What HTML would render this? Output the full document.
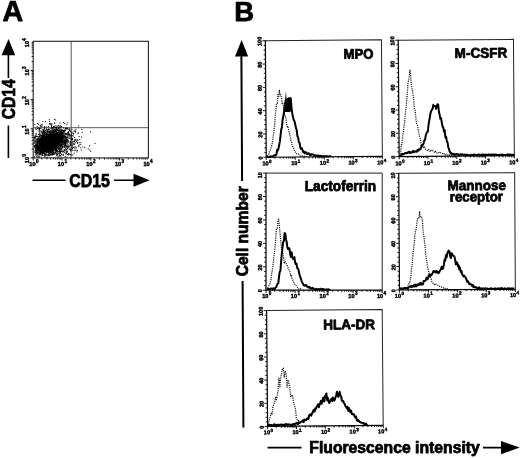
<!DOCTYPE html>
<html><head><meta charset="utf-8"><title>Figure</title>
<style>html,body{margin:0;padding:0;background:#fff}svg{display:block;filter:grayscale(1) blur(.3px);will-change:transform}text{font-family:"Liberation Sans",sans-serif;fill:#000}.b{font-weight:bold;stroke:#000;stroke-width:.75px;stroke-linejoin:round}.t{font-weight:bold;stroke:#000;stroke-width:.4px}</style></head><body>
<svg width="520" height="458" viewBox="0 0 520 458">
<rect width="520" height="458" fill="#fff"/>
<text class="b" x="2.4" y="21.1" font-size="28.6">A</text>
<text class="b" x="234.2" y="21.3" font-size="27.5">B</text>
<g fill="none" stroke="#222" stroke-width="1.1">
<rect x="33.2" y="41.3" width="115.2" height="116.6"/>
</g>
<g fill="none" stroke="#444" stroke-width="0.9">
<path d="M71.2 41.3 V157.9 M33.2 127.7 H148.4"/>
</g>
<path d="M33.2 157.9v2.6M33.2 157.9h-2.6M41.9 157.9v1.6M33.2 149.1h-1.6M46.9 157.9v1.6M33.2 144h-1.6M50.5 157.9v1.6M33.2 140.3h-1.6M53.3 157.9v1.6M33.2 137.5h-1.6M55.6 157.9v1.6M33.2 135.2h-1.6M57.5 157.9v1.6M33.2 133.3h-1.6M59.2 157.9v1.6M33.2 131.6h-1.6M60.7 157.9v1.6M33.2 130.1h-1.6M62 157.9v2.6M33.2 128.8h-2.6M70.7 157.9v1.6M33.2 120h-1.6M75.7 157.9v1.6M33.2 114.8h-1.6M79.3 157.9v1.6M33.2 111.2h-1.6M82.1 157.9v1.6M33.2 108.4h-1.6M84.4 157.9v1.6M33.2 106.1h-1.6M86.3 157.9v1.6M33.2 104.1h-1.6M88 157.9v1.6M33.2 102.4h-1.6M89.5 157.9v1.6M33.2 100.9h-1.6M90.8 157.9v2.6M33.2 99.6h-2.6M99.5 157.9v1.6M33.2 90.8h-1.6M104.5 157.9v1.6M33.2 85.7h-1.6M108.1 157.9v1.6M33.2 82h-1.6M110.9 157.9v1.6M33.2 79.2h-1.6M113.2 157.9v1.6M33.2 76.9h-1.6M115.1 157.9v1.6M33.2 75h-1.6M116.8 157.9v1.6M33.2 73.3h-1.6M118.3 157.9v1.6M33.2 71.8h-1.6M119.6 157.9v2.6M33.2 70.5h-2.6M128.3 157.9v1.6M33.2 61.7h-1.6M133.3 157.9v1.6M33.2 56.5h-1.6M136.9 157.9v1.6M33.2 52.9h-1.6M139.7 157.9v1.6M33.2 50.1h-1.6M142 157.9v1.6M33.2 47.8h-1.6M143.9 157.9v1.6M33.2 45.8h-1.6M145.6 157.9v1.6M33.2 44.1h-1.6M147.1 157.9v1.6M33.2 42.6h-1.6" stroke="#000" stroke-width="0.9" fill="none"/>
<text class="t" x="35.5" y="166.1" font-size="5.6" text-anchor="end">10</text><text class="t" x="35.9" y="163.3" font-size="4.6">0</text>
<g transform="translate(29.2 156.9) rotate(-90)"><text class="t" x="0" y="0" font-size="5.6" text-anchor="end">10</text><text class="t" x="0.3" y="-2.9" font-size="4.6">0</text></g>
<text class="t" x="64" y="166.1" font-size="5.6" text-anchor="end">10</text><text class="t" x="64.5" y="163.3" font-size="4.6">1</text>
<g transform="translate(29.2 128.4) rotate(-90)"><text class="t" x="0" y="0" font-size="5.6" text-anchor="end">10</text><text class="t" x="0.3" y="-2.9" font-size="4.6">1</text></g>
<text class="t" x="92.6" y="166.1" font-size="5.6" text-anchor="end">10</text><text class="t" x="93" y="163.3" font-size="4.6">2</text>
<g transform="translate(29.2 99.1) rotate(-90)"><text class="t" x="0" y="0" font-size="5.6" text-anchor="end">10</text><text class="t" x="0.3" y="-2.9" font-size="4.6">2</text></g>
<text class="t" x="121.2" y="166.1" font-size="5.6" text-anchor="end">10</text><text class="t" x="121.6" y="163.3" font-size="4.6">3</text>
<g transform="translate(29.2 69.2) rotate(-90)"><text class="t" x="0" y="0" font-size="5.6" text-anchor="end">10</text><text class="t" x="0.3" y="-2.9" font-size="4.6">3</text></g>
<text class="t" x="149.7" y="166.1" font-size="5.6" text-anchor="end">10</text><text class="t" x="150.1" y="163.3" font-size="4.6">4</text>
<g transform="translate(29.2 41) rotate(-90)"><text class="t" x="0" y="0" font-size="5.6" text-anchor="end">10</text><text class="t" x="0.3" y="-2.9" font-size="4.6">4</text></g>
<path d="M47.4 140.4h1M46.6 144.4h1M42.1 145h1M56.3 138.6h1M55.6 139.6h1M51.3 141h1M38.5 141h1M52.4 139.2h1M35.2 153.8h1M42.1 146.2h1M50.5 142.2h1M51.2 144.8h1M51 140.1h1M46.2 135.1h1M53.6 135.7h1M43.5 147.1h1M46.1 143.6h1M53 140.3h1M44.4 147.9h1M46.5 137.4h1M43.5 142.6h1M49.5 149.1h1M50.4 136h1M34.8 147.3h1M46.8 146.7h1M51.7 142h1M39.8 140.8h1M54.1 136.8h1M58.4 138.4h1M47.7 148.7h1M51.8 144.5h1M44 149.4h1M41.5 146.7h1M54.6 150.4h1M39.2 143.7h1M58.7 137.4h1M50 145.5h1M42.3 139.5h1M56 140h1M50.6 140h1M59.8 136.9h1M52.6 139h1M39.7 138.7h1M55.4 138.4h1M34.7 148.8h1M51.9 150h1M48.5 137.8h1M41.8 136.7h1M52 142.4h1M51.4 138.8h1M50.7 136.7h1M43.6 145.6h1M55.4 140.7h1M43.8 139.3h1M57.6 142.3h1M39.2 145.4h1M47.2 144.2h1M56.5 145.3h1M55.3 146.7h1M44.1 140.7h1M57 136.5h1M50.9 141.3h1M50.2 139.4h1M47.7 141.4h1M52.3 141.6h1M54.2 138.5h1M62.2 137.7h1M45.2 145h1M49.5 138h1M46.7 141.1h1M57.5 152.1h1M41.4 143.1h1M51.4 140.7h1M46.4 140h1M49.7 144.6h1M65 136.9h1M44.7 143.9h1M46.9 143.2h1M53.8 146.6h1M49.2 137.9h1M55.9 133.8h1M36.8 147h1M47 140h1M52.5 153.9h1M53.9 147.9h1M51.2 148.7h1M51.1 136.4h1M47.7 141.8h1M53.9 140.5h1M49.8 135.1h1M55.1 142.3h1M65.2 143.7h1M54.2 142.3h1M50.2 138.8h1M50.7 139h1M36.6 152.3h1M51.4 146.2h1M40 151.3h1M57.8 136.8h1M57.1 144.7h1M47.1 148.1h1M55.5 133.5h1M44.5 136.3h1M54.8 141.8h1M37.2 138.8h1M47.1 145.6h1M51.6 139.9h1M57.2 145.1h1M57.8 133.4h1M57.9 141.1h1M44.8 138.7h1M49.4 141.7h1M57.6 141.5h1M37.2 141.5h1M49.9 145h1M49.4 138.4h1M50.6 135.9h1M49.3 137.5h1M60.3 132.2h1M45.1 139.3h1M34.8 150.8h1M36.8 140.4h1M40.4 144.5h1M47.2 142.9h1M44.9 142.3h1M60.4 139.4h1M53.2 136.7h1M45.7 149h1M46.1 138.1h1M36.9 148.1h1M56.1 137h1M49.5 138.5h1M48.2 148h1M37.4 148.1h1M53.9 143.8h1M41.6 147.7h1M38.2 145.5h1M41.2 142.6h1M41.9 153h1M53 142.7h1M49.9 144.3h1M54.5 137.6h1M53.3 139.8h1M58.1 137.1h1M49 152h1M56 134.6h1M46 145.3h1M59.2 148h1M54.5 129.9h1M43.2 140.6h1M60.8 140.1h1M53.3 137.2h1M42.4 144.4h1M51.4 138h1M48 143.5h1M41.4 145.9h1M54.5 140.6h1M41.9 148h1M67.5 132.6h1M49.6 154.2h1M53.2 139.2h1M60.1 137.7h1M48.7 140h1M36.9 140.5h1M49.8 145.4h1M59.4 131.5h1M38.4 148h1M50.6 141.1h1M44.7 147.9h1M63.7 134h1M39 151h1M60.9 134.9h1M61.5 135.6h1M43.1 142.6h1M48.7 140h1M43.5 144.3h1M52 139.9h1M53 140.5h1M47.3 139.2h1M47.8 146.5h1M44.4 143.5h1M48 141.9h1M48.7 141.6h1M46.1 148.9h1M52.5 136.7h1M51.1 142.7h1M50.3 146.5h1M36.1 145.2h1M43.2 140.4h1M38.2 157.1h1M43.5 136.4h1M44.3 149.8h1M44.1 141.2h1M52 140.8h1M59.1 136.7h1M49.1 139.6h1M60.6 135.1h1M54 146.2h1M48.4 139.2h1M47.8 137.7h1M53.5 137.1h1M50.2 130.4h1M56.4 141.6h1M52.2 129.6h1M47.3 138.8h1M55 140.9h1M41 143.4h1M52.2 136.4h1M53.7 141.1h1M54.8 138.5h1M49.9 141.9h1M47.7 139.5h1M40.8 147.3h1M46.8 149.7h1M43.2 153h1M44.7 140.8h1M52.2 141.9h1M45.3 149.8h1M61.2 137h1M54.7 145.1h1M45.1 151.7h1M54.8 136.7h1M35.9 145.8h1M50.5 150.1h1M35.2 150.6h1M42.7 150.4h1M49 141.2h1M53.5 138h1M59.8 134.4h1M39.2 147.1h1M40.2 149.5h1M48 142.6h1M49.8 149.5h1M40.3 144.6h1M46.8 144.3h1M47.2 146.3h1M53.6 139.6h1M47.1 145.9h1M44.1 156.1h1M42.1 143.9h1M38.8 143.9h1M47.8 149h1M46.5 144.4h1M52.3 138.8h1M47.2 146.7h1M47.5 143.1h1M53.7 139.9h1M42.1 150.3h1M45.1 146.7h1M41 144.8h1M45.4 142.8h1M51.5 143.7h1M63.5 140.4h1M55.9 140.1h1M53 152.4h1M43.8 142.5h1M55.3 130.1h1M52.2 135.7h1M54.7 136.6h1M51.7 142.4h1M50.6 147h1M55.1 145.6h1M52.7 131.7h1M47 142.8h1M56.2 140.5h1M43.5 142.5h1M53.2 138.1h1M45.5 135.1h1M59.5 139.7h1M49.8 144.2h1M57 143.7h1M52.4 143.8h1M44.8 140.1h1M57.3 140.4h1M45 139.6h1M48.5 141.1h1M59.9 134.5h1M47.8 132.1h1M49.5 138.6h1M44.2 143.8h1M39.1 136.5h1M56.1 146.3h1M36.6 152.9h1M55.7 142.9h1M47.7 144.1h1M46.4 148h1M46.9 149.5h1M48.4 141.1h1M51.3 142.9h1M42.7 143.2h1M47.2 135.6h1M53.4 141.8h1M44.5 146.7h1M41.9 145.7h1M51.1 139.5h1M54.8 131.3h1M43.9 143.6h1M64.7 147.2h1M45.3 142.5h1M50 140.3h1M47.4 141.1h1M49.8 138.6h1M34.9 149.9h1M47.2 147.6h1M42.4 141.1h1M45 140.4h1M53.8 139.8h1M51.7 142.2h1M39.2 144.9h1M50.9 144.4h1M48.7 139h1M43.5 140.8h1M60.1 142.2h1M49.3 143h1M59 138.5h1M53.6 144.4h1M48.4 142.6h1M38.5 138.3h1M52.3 149.6h1M53.3 142h1M51.9 140h1M38.4 145.9h1M57.7 142.9h1M40.1 150.8h1M40.8 142.8h1M60.2 137.7h1M52.8 131.2h1M44.3 146.6h1M52.6 139h1M40.4 149.9h1M50.7 140.8h1M39.6 145.6h1M45.5 141.1h1M47.6 143.1h1M47.4 137.9h1M57.2 142.1h1M53.2 144.9h1M49.9 138.7h1M58 142h1M48.2 141.7h1M38.6 144.8h1M44.5 141.8h1M38.7 154h1M49.1 141.2h1M45.9 139h1M46 145.9h1M49.8 149.4h1M44 143.7h1M53.9 141.9h1M49.7 145.2h1M52.5 133.9h1M46.8 132h1M44.3 143.4h1M50.9 137.2h1M37.8 154.8h1M53.5 137.6h1M55.8 128.6h1M50.2 140.9h1M55.1 139.2h1M58 145.9h1M53.4 143h1M57.2 130.5h1M48.2 143.8h1M44.2 147.4h1M45.1 140.4h1M48.8 142.1h1M48.5 138.3h1M51.6 142.4h1M52.7 142.2h1M42.6 137.2h1M50.4 146.4h1M56 139.1h1M40.1 137.1h1M51.8 137.6h1M49.6 142.9h1M39.4 140.2h1M48.4 143.9h1M50.9 141.6h1M52.5 143.2h1M45.7 153h1M46.5 139.9h1M56.9 142.1h1M49.6 134.9h1M47.2 139.4h1M59.6 139.6h1M55.7 144h1M49.8 142.5h1M50.6 136.8h1M63.5 141.9h1M45.3 141h1M42.1 141.8h1M51.9 142.9h1M50.1 149.2h1M51.7 148.9h1M43.2 146.3h1M46.9 138.9h1M48.6 144.3h1M54 133.9h1M49 140.7h1M57 139.2h1M43 132.4h1M60.7 148.7h1M48.7 140.5h1M55.7 137.7h1M45.4 148.1h1M50.4 137.3h1M40.1 149.3h1M46 152h1M46.3 145.1h1M50.6 145.2h1M42.2 145.8h1M47.4 145.8h1M49.5 138.8h1M58.4 132.2h1M42.8 145.8h1M34.4 137.2h1M43.7 143.8h1M50.3 148.3h1M51.5 141.9h1M36.8 144h1M54.1 149.7h1M54.1 140.2h1M52.2 139.6h1M56.8 141.5h1M53.8 143.1h1M52.3 145.3h1M49.9 134.2h1M51.3 142.6h1M40 148.2h1M50.9 137.6h1M51.9 139.3h1M49.8 135.9h1M45.3 145.8h1M54.4 140.8h1M46 145.8h1M47.6 139.9h1M49.4 147.9h1M51.5 140.9h1M42.8 140.3h1M46.2 144.6h1M55.3 134.8h1M44.5 141.5h1M45.5 132.6h1M46.7 137.4h1M45.2 139.6h1M60.1 151.4h1M46.2 140.7h1M47.1 145.9h1M62.8 138.7h1M38.7 140.9h1M38.5 139.6h1M44.9 142.7h1M57 139.9h1M37.3 153h1M57.2 137h1M44.1 139.6h1M52.6 138.5h1M55.3 137.5h1M51.4 153.1h1M50.2 139.8h1M64.2 143.1h1M46.4 142.9h1M53.8 143.3h1M55.1 144.5h1M49.6 144.7h1M48.7 145.6h1M39.3 139.7h1M49.8 144.8h1M51 137.3h1M41.9 144.6h1M52.7 139.1h1M43.8 153.4h1M57.1 138.9h1M48.3 143.8h1M49.7 144.2h1M40.8 147.8h1M43.8 146.5h1M41.6 141.2h1M40.6 141.4h1M42.2 142.4h1M57.8 139.3h1M43.7 143.4h1M47.4 150.8h1M44.7 142.7h1M45.5 142.9h1M54.3 137.6h1M55.2 138.2h1M46.6 143.1h1M46.3 144.5h1M45.2 151.2h1M46.3 143.2h1M42 144.2h1M51.7 142.5h1M59.1 151.9h1M44.9 151.8h1M58.2 127.9h1M51.6 143.2h1M49.4 152.6h1M54.6 139.3h1M47.9 145.3h1M52.1 143.9h1M49.4 144.6h1M50.7 138.5h1M42.7 144.1h1M52.7 140.8h1M59.1 130.8h1M40.2 153.4h1M56 133.6h1M55.6 137h1M43.6 147h1M53.3 145.5h1M35.3 150.3h1M67.3 129.1h1M43.1 147.2h1M49.1 145.8h1M57.1 140.8h1M42.9 137.8h1M44.9 142.3h1M48 144.1h1M49.8 145.4h1M39.2 148.2h1M48.4 142.3h1M52.3 141h1M42.4 147.2h1M34.3 146.7h1M52.3 139.1h1M47.5 143.5h1M54.7 140.9h1M54.1 138.5h1M51.5 135.8h1M44.3 145.2h1M42.2 147.7h1M60.9 131.4h1M49.3 139.7h1M57.2 136.7h1M54.9 146.8h1M44.8 141.3h1M58.1 139.7h1M42.4 145.6h1M43.1 147.8h1M57.7 143.2h1M51.2 131.9h1M56.7 139h1M45 141.5h1M60 136.9h1M56.9 140h1M51.7 142.7h1M52.9 135.4h1M39 145.1h1M49.4 144.9h1M47.4 139.1h1M62.5 136.2h1M48.8 149.6h1M61.3 139h1M46.9 148h1M46.8 148h1M49.5 140.1h1M49 141.1h1M44.6 136.9h1M42 152.5h1M46.3 146.5h1M41.4 145.9h1M49 147.8h1M49.3 135.7h1M52.8 142.2h1M49.2 142.9h1M49.1 139h1M45 154.4h1M47.3 146.9h1M52.1 144.4h1M52.1 131.6h1M40.2 149.7h1M36.3 156.5h1M36.5 143.7h1M42 152.7h1M39.5 141.8h1M42.9 145.5h1M52.3 135.3h1M62.5 134.3h1M49.7 141.4h1M62.1 132.6h1M47 140.8h1M50.5 141.8h1M43.6 149.8h1M43.1 150.9h1M57.2 137.9h1M42.2 137.6h1M52.1 150.4h1M61.6 135.6h1M60.6 145.2h1M52.5 139.6h1M50 141.3h1M53.7 148.1h1M38.6 151.3h1M44.1 146.4h1M51.2 140.6h1M47.9 145.8h1M46.7 138.5h1M53.7 140.8h1M48.2 135.4h1M45.4 140.3h1M55.8 142h1M52.6 146.6h1M55.4 139.9h1M38.8 141.8h1M44.1 137.6h1M43.8 144.4h1M50 143.7h1M49.5 144.8h1M52.9 141.4h1M46.6 155.6h1M56.2 140.5h1M36.8 144.9h1M52.9 136.5h1M43.2 136.7h1M50.3 131h1M48.4 139.4h1M44.7 148.6h1M56.8 136.3h1M59.7 135.8h1M42.7 151.6h1M43.4 146.8h1M43.8 141h1M50.3 143.3h1M49.5 142.9h1M50.8 138.5h1M54 144.3h1M40.3 137.9h1M50.6 136.9h1M37.3 146.7h1M46.9 149.5h1M46 139.8h1M57.5 133h1M41.1 150.7h1M53.1 137.1h1M48.2 148.6h1M54.6 137.4h1M51.6 144h1M51.5 138.1h1M42.6 152.4h1M51.2 139.6h1M49.7 138.1h1M44.5 143.8h1M47.2 140.2h1M58.7 141.2h1M63.9 131.7h1M54.4 138.4h1M60 140.6h1M46.5 147.9h1M53.2 135.2h1M52.5 139.6h1M47.4 142h1M40.4 139.6h1M44.5 148.6h1M42.6 147.7h1M55.4 135.9h1M40.7 140.1h1M53.7 143.9h1M37.8 148.5h1M44.7 141.8h1M43.7 153h1M48.2 149.6h1M53 147h1M42.9 147.8h1M46.5 137h1M54.8 138.2h1M48.8 149.6h1M44.4 146h1M42.7 141.6h1M42.8 147.2h1M39.1 154.3h1M54 135h1M48.5 147h1M56.9 139.1h1M56.4 133.8h1M55.4 142.9h1M56.4 137h1M37.9 146.9h1M39 145.3h1M51 146.8h1M36.5 139.4h1M52.8 134.7h1M41 139.4h1M64.6 129.3h1M47.4 141.5h1M48.7 137.9h1M55.5 140.4h1M40.4 141h1M46.2 140.2h1M52.2 134.1h1M55.5 142.9h1M52.9 133.3h1M45.5 141.2h1M57.9 134.4h1M50.3 148.1h1M40.5 143.3h1M54.1 129.4h1M44.2 138.3h1M51.6 149.5h1M43.3 143h1M45.1 144h1M50.6 145.7h1M50.8 144.9h1M45.5 140.7h1M45.1 142h1M59.1 139.8h1M48.4 139.1h1M47.4 137.8h1M40.8 141.5h1M44.2 147.2h1M59.2 143.8h1M60.9 136.5h1M56.9 145h1M58.2 133.4h1M47.6 143.3h1M64.9 137.7h1M45 146.3h1M51.8 140.2h1M51.7 133.8h1M46.9 140.7h1M56.9 145.1h1M57.6 131.9h1M38.2 150h1M39.4 153.2h1M49.3 150.9h1M53.5 134.6h1M37.5 146.6h1M36.8 141.8h1M43.3 145h1M49.5 139.7h1M46.2 143h1M45 142.8h1M40.8 144.1h1M35.2 148h1M61.2 139h1M40.5 143.3h1M40.1 152.1h1M44.5 140.1h1M50.9 142.4h1M41.1 149.3h1M57.7 139.1h1M39.7 154.4h1M42.4 132.6h1M40.8 144.7h1M49.7 142.9h1M45 149.7h1M43.6 135.9h1M44.5 139.6h1M37 146.6h1M51.5 137h1M41.8 141.4h1M50.2 145.5h1M50.6 146.1h1M43.2 143.9h1M40.1 151.3h1M46.6 139.4h1M47.3 136.9h1M39.3 150.8h1M59.2 138.1h1M53.7 145h1M54.1 139.9h1M52.8 141.3h1M55.7 143.8h1M40.4 151.3h1M55.3 144.3h1M40.5 148.8h1M44 149.4h1M45.8 146h1M43.7 148.1h1M48.2 144.7h1M49.6 141.1h1M48.1 152.7h1M44 147.3h1M51.7 149h1M43.4 145.1h1M47.5 138.2h1M46.7 138.5h1M36.7 153.7h1M57.1 138.4h1M51.9 141.1h1M50.2 147.7h1M54.1 143.6h1M55.1 140.5h1M33.9 152h1M55.8 141.4h1M46.2 141.9h1M45 145.8h1M49.3 141.6h1M58.6 139.8h1M63.1 130.7h1M61.1 134.6h1M49.5 141.6h1M46.7 146.3h1M47.3 145.7h1M60 137.3h1M43.3 152.6h1M47.6 144.6h1M40 149.8h1M34.3 143.3h1M51.2 130h1M48.1 143.3h1M58.2 139.5h1M49.2 144.1h1M46.3 136.1h1M57.2 132.5h1M46.2 142.9h1M43.8 139.2h1M40 142h1M57.4 133.8h1M43.6 138.7h1M42.9 147.4h1M41.2 139h1M58.7 142.8h1M43.1 145.4h1M66.3 133.6h1M42.8 152.2h1M45.5 137.8h1M60.5 140.8h1M43.3 146.1h1M37.1 141.1h1M42.6 139h1M35.7 151.5h1M49.5 145.8h1M53.7 141.2h1M41.5 141.3h1M51.8 150.5h1M61.1 137.1h1M51.3 150.4h1M43.3 145.4h1M53.9 147.9h1M40.2 153.9h1M47.3 141.2h1M36.7 148.1h1M53.8 133.9h1M52.5 142.9h1M39.6 149h1M44.3 142.8h1M50.2 134.4h1M49.1 147.3h1M59.8 135.4h1M48.3 145.9h1M34.9 150.5h1M53.6 145h1M40 143.7h1M50.8 139.1h1M54.5 134.5h1M44.1 139h1M42.8 140.7h1M50 141h1M54.9 141h1M56.9 136.4h1M48.7 145.1h1M42.9 146.3h1M47.1 142.9h1M68.9 134.6h1M52.5 145.5h1M43.4 145.2h1M48.5 147.3h1M58.5 142.7h1M52.8 152.2h1M48.8 141.2h1M50.5 139.2h1M50.5 141.3h1M35.2 149h1M50.3 143h1M42.4 146.7h1M62.8 131.1h1M49.7 136.3h1M35.7 154.5h1M44.3 147.6h1M45 142.5h1M67.7 140.9h1M49.2 141.1h1M49.4 138h1M58.7 145.8h1M49.2 143.5h1M49 149.4h1M34.1 156.7h1M52.2 140.7h1M46.1 154h1M45.1 146.8h1M38.1 149.2h1M53.8 138.7h1M49 140h1M44.6 143.1h1M49.4 139.7h1M47.9 143.3h1M46.8 145.9h1M63.9 136.4h1M54.1 130.6h1M55.9 147.9h1M54.1 137.3h1M62.5 133h1M52.2 147h1M43.1 142.6h1M50.6 146.7h1M45.5 145.1h1M49.3 140.8h1M45.1 149h1M58.6 132.7h1M49 137.6h1M52.2 138.6h1M50.8 145.5h1M53.5 136.6h1M44.9 134.3h1M64.5 130.2h1M62.5 135.7h1M45.5 146h1M43.3 143.2h1M49.1 139.3h1M37.9 134.4h1M63.5 139h1M53.5 139.1h1M50.1 143.1h1M46.7 146.7h1M49.6 142.3h1M49.6 146.2h1M48.8 142.2h1M51.2 146.7h1M52.4 137h1M52 143.4h1M45 144.4h1M55.2 133.7h1M46.7 145.9h1M51.2 140.9h1M41.6 147.6h1M48.6 139.4h1M39.4 149.4h1M50.3 147.7h1M49.6 140.6h1M46.5 147.7h1M47.7 144.2h1M49.7 146.1h1M53.7 149h1M47.3 142.7h1M54.1 143.9h1M51.4 144.4h1M55.5 132.8h1M46.4 141h1M43.5 139.2h1M56.5 140.4h1M41.5 142.3h1M57.4 135.3h1M51.7 150.2h1M45.7 136.6h1M41.8 138.9h1M61.8 135.8h1M55.5 142.3h1M40.3 145h1M47.1 143.1h1M52.9 142.1h1M50.3 140.1h1M50.7 133.5h1M51.5 141.4h1M46.4 145.9h1M57.6 139.6h1M40.7 147h1M47.1 144.9h1M54.3 146.5h1M51.9 141h1M40.8 144.2h1M48.5 140.2h1M45.9 141.7h1M36.2 150.5h1M54.9 136.1h1M47.7 145.5h1M53.1 151h1M44 140.5h1M51.6 146.5h1M37.8 138.4h1M48.4 146.6h1M49.9 138h1M50.9 151.5h1M51.5 150h1M56.5 138.7h1M62.6 141.9h1M49.8 137.4h1M43.4 147h1M46 143.5h1M41.9 141.9h1M52.2 141.3h1M59.3 141.4h1M56.5 143.1h1M51.2 150.8h1M49.6 143h1M44.5 146.3h1M45.3 146.6h1M44.2 145.9h1M41.4 144.9h1M53.4 142.5h1M46.9 136.6h1M56.1 136.4h1M55.7 142.3h1M49 137.3h1M44.7 144h1M51.4 140.1h1M47.9 138.1h1M48.2 139.2h1M56.4 137.6h1M51.9 147h1M39.1 147.6h1M53.4 134.4h1M40.8 143h1M42 147.5h1M47.5 139.6h1M51.3 136.4h1M43.1 139.7h1M54.7 140.7h1M51 144.5h1M40.8 146.2h1M47.7 129.4h1M47.3 135.2h1M50.2 140.6h1M52.5 145.1h1M55 139.2h1M39.2 142h1M52.7 139.4h1M58.5 142h1M52.8 138h1M44 138.1h1M37.4 151.2h1M50.6 147h1M45.8 150.7h1M47.6 147.9h1M48.9 149.5h1M51.1 143.1h1M48.8 142.7h1M47.8 148.8h1M41.8 146.2h1M48.9 151.5h1M42.7 146.7h1M41.9 142.6h1M46.6 146.7h1M43 140.1h1M44.8 140.7h1M49.2 151.1h1M41.4 144.2h1M51.7 138.1h1M55 136.1h1M45.8 144.1h1M53.1 143.3h1M53.6 148.6h1M52.6 142.3h1M36.7 140.8h1M50.6 141.9h1M40.8 146.5h1M57.5 144.1h1M40.4 145.1h1M44.8 147.6h1M44.2 138.7h1M41.3 135.2h1M43.6 148.7h1M54.4 138.5h1M42.5 140.5h1M35.2 150h1M55.6 142h1M40.5 142.1h1M54.5 141.1h1M36.2 147.1h1M52.2 138.1h1M60.4 140.8h1M45.3 143.5h1M55.3 145.2h1M53.8 153.9h1M53 144.5h1M52.4 138.4h1M40.6 144.8h1M50.8 139.2h1M41.2 148.8h1M38.9 133.1h1M47 143.9h1M39.8 140.3h1M46.7 136.3h1M54.1 141h1M52 146.8h1M45.7 145.8h1M40.1 144.4h1M49.3 135.7h1M41.9 146.2h1M51.8 139.8h1M48.1 144.8h1M52.2 139.9h1M36 146.7h1M38 150.5h1M49.5 142h1M48.2 146.6h1M46.1 147.3h1M51.8 138.5h1M61.6 133.5h1M42.6 146h1M42.7 142.5h1M62.4 135.9h1M40.6 142h1M48.9 141h1M59.3 143.7h1M45.3 134.2h1M49.8 145.8h1M50 137.6h1M46.7 146.1h1M45.9 134.4h1M37.1 144.5h1M49.4 139.4h1M46.4 140.7h1M53.7 141.9h1M45.3 144.1h1M41.9 145.1h1M46.8 142h1M58.9 134h1M46.3 140.3h1M51.4 138.3h1M49 141.2h1M44.5 147.1h1M55.8 134.7h1M53.4 139.3h1M49.7 144.3h1M37.5 142.1h1M49.2 144.9h1M43.7 137.8h1M38.7 136.8h1M55.6 129.9h1M43.7 143.8h1M45.3 142.6h1M46.2 146.5h1M54.7 144.6h1M45.8 140.6h1M44.4 145.5h1M50.4 143.7h1M40.2 145h1M49.1 134.5h1M42.4 139.5h1M42.9 145.5h1M46.7 141.7h1M56.3 132.5h1M45.9 137h1M56 136.9h1M44.6 139.3h1M48.2 140.9h1M47.5 139.7h1M57.2 135.2h1M48.3 138h1M57 144.8h1M56.6 146.7h1M52.8 138.7h1M58.6 138.8h1M44.4 147.2h1M41.2 140.7h1M46.1 146.4h1M51.1 145.4h1M45.1 145.4h1M61.2 132.7h1M45.6 150.5h1M50.4 141.7h1M51.5 139.2h1M47.5 138.5h1M54.3 140.1h1M45.2 145.5h1M51.8 146.8h1M46.5 146.4h1M40 141.8h1M48.4 142.4h1M52.5 148.4h1M48.4 141.2h1M52.7 146.5h1M53.5 140.3h1M58.8 134.8h1M54.7 131.1h1M48 144.6h1M45.1 147.7h1M46.1 151.8h1M48.5 140.5h1M54.6 142.6h1M56.9 143.5h1M45.4 151.9h1M42.5 147.6h1M58.7 137.6h1M42 141.7h1M51.3 142.9h1M48.3 143.9h1M42.9 151.8h1M49.4 136.5h1M57.4 141.6h1M43.4 144.7h1M54.7 139.4h1M45.2 141.7h1M47.8 140.4h1M44.2 150.2h1M49.8 138.8h1M41.2 144.7h1M53.7 142.9h1M46.7 133.8h1M55 136.3h1M44.3 136.2h1M37.2 147.6h1M54.8 135h1M41.8 147.1h1M47.5 151.4h1M53.3 138.8h1M46.3 140.6h1M53.8 139.8h1M53.6 134.5h1M45.6 142.5h1M46.4 138.4h1M46.4 140.9h1M49.5 142h1M59.4 140.2h1M58.5 136.4h1M56.7 141.2h1M55.3 137.5h1M44.9 142.2h1M47.6 142.9h1M56 143.9h1M35.8 153.3h1M44.9 146.3h1M49.2 139.8h1M60.1 138.3h1M50.6 145.3h1M53.8 135.2h1M54.8 149.7h1M56 133.6h1M52 148.3h1M47.2 140.2h1M50.2 145.7h1M44 139.3h1M41.7 137.8h1M49 141h1M39.3 147.4h1M51.2 148.4h1M60 145.9h1M40.8 144.2h1M52.4 138.3h1M45.9 144h1M46.3 145.6h1M50.3 141.4h1M44.8 142.3h1M48.3 142.9h1M53.5 148.9h1M48.9 147.1h1M48.2 135.9h1M41.5 144.6h1M45.8 138.9h1M40.4 151.9h1M51.4 143.4h1M47.7 137.9h1M42.4 145.6h1M49.9 140.3h1M46.4 138.4h1M62.2 141h1M57.9 149.6h1M57 142h1M49 143.9h1M43 149.5h1M47.5 137h1M55.3 142.4h1M44.3 146.6h1M43 135.9h1M52.8 140.9h1M44.2 148.1h1M57.7 136.8h1M43.6 139.3h1M42.2 141.2h1M41.9 145.9h1M52.1 139.7h1M53.9 144.9h1M60.1 133.7h1M49 140.3h1M43.4 144.4h1M40.2 144.1h1M51.3 135.9h1M55.4 137.2h1M45.9 144.1h1M46.6 142h1M37.2 141.8h1M38 147.3h1M48 144.9h1M58.9 140.4h1M59.8 134.6h1M45.8 141.4h1M56.3 142.1h1M48.4 145h1M48.5 144.1h1M50.2 137.7h1M57.5 139.7h1M50.8 138.2h1M45.4 147.9h1M54.5 145.2h1M53.3 145.6h1M58.9 144.6h1M55.6 134.1h1M44.1 137h1M41.3 152.1h1M53.9 138.1h1M44.3 154.7h1M47.8 144h1M45.8 144.4h1M36.5 147.9h1M61.7 132.5h1M45.4 146.4h1M52.2 136.9h1M51.7 146.9h1M49.7 141.6h1M59 134.7h1M53.2 136h1M47.8 135.9h1M46.3 141.3h1M53.3 145.4h1M42 151.8h1M49.5 142.5h1M47 140.7h1M35.1 145.9h1M48.7 143.6h1M55.5 133h1M44.6 147.6h1M44.8 143h1M51.2 145.7h1M53.7 145.8h1M54.2 139.2h1M53.9 131.6h1M46.6 143.7h1M52.5 137.7h1M40.3 143.3h1M44.5 140.7h1M57.2 140.2h1M48 141.8h1M52.2 140.9h1M45.1 146.5h1M48.8 137.1h1M49.4 136.3h1M50.2 142.1h1M37.2 148.2h1M54.9 146.7h1M41 149.2h1M45.7 140.3h1M49.9 151.1h1M57.1 143h1M46.7 135.6h1M46.6 148.5h1M43.6 146.9h1M41.7 145.6h1M54.5 139.5h1M43 131.5h1M42.4 143.5h1M49.6 138.9h1M46.9 140.9h1M62 138.8h1M42 142.6h1M43 145.5h1M50.1 140.6h1M47.7 138.9h1M45.8 148.9h1M53.6 142.9h1M55.4 143.7h1M52.5 140.1h1M43 137.6h1M37.6 141.1h1M56 138.5h1M52.2 143.8h1M48.7 141.5h1M52 138.5h1M46.4 146.1h1M45.4 141.4h1M36.5 150.9h1M45.3 145.7h1M43.7 155.4h1M46.1 144.2h1M51.1 150.6h1M47.1 140.7h1M53 136.1h1M54 145.8h1M52.1 143.1h1M45.2 136.5h1M43.5 147.5h1M44.9 147.1h1M55.3 139.2h1M57.9 138.4h1M45.8 138.5h1M43.8 145.7h1M47.5 142.6h1M55.4 143.5h1M50.7 142.1h1M39.2 149.6h1M47.6 140.9h1M51.1 139.7h1M48.3 144.5h1M50.1 146.6h1M39.6 146.1h1M38.8 147.1h1M43.1 146.3h1M47.3 146.3h1M43.8 151.2h1M48.4 146.4h1M47.8 155.2h1M43.7 142.6h1M49.2 141.9h1M39.2 143.7h1M48.3 146.9h1M53.2 141.6h1M48.1 144.6h1M52.1 141.2h1M56.3 138.6h1M44.3 144.5h1M53.9 142.8h1M51.5 139.4h1M44.7 153.8h1M49.6 141.3h1M48.5 145.9h1M56.1 141.3h1M43.7 146.9h1M49.5 147.1h1M44.4 134.6h1M58.1 135.5h1M57.9 137.6h1M39.1 139.4h1M57 138.3h1M37.4 139.6h1M56.7 142.7h1M50.2 138.6h1M49.2 137.4h1M49.8 139.1h1M47.3 149.4h1M45.8 129h1M51.8 135.8h1M57.8 132.6h1M51.4 144.5h1M46.4 151.6h1M48.4 138.5h1M34.9 144.9h1M55.3 134.9h1M41.8 147h1M35.3 150.3h1M54.3 131.8h1M42.8 137.7h1M50.7 144.2h1M59.6 151.1h1M48.3 141.6h1M64.2 130.6h1M63.2 138.3h1M56.4 134.5h1M52.2 140h1M46.8 144.7h1M42.9 135.1h1M43.2 153.1h1M50.2 142.3h1M51.7 133.6h1M47.5 143.9h1M43.7 143.8h1M45.9 142.2h1M69 135.8h1M45.3 134.6h1M55 137.3h1M54 137.5h1M54.5 134.7h1M56.5 134.5h1M45.3 143.3h1M44.9 139.1h1M53.3 143.4h1M55.3 129.1h1M55.1 145.9h1M48.6 139.6h1M48.7 140.7h1M56.5 139.1h1M42.3 140.8h1M48 142.1h1M43.2 150h1M40.1 146.1h1M38.5 157.1h1M54.5 146.3h1M44.5 141.1h1M34.6 139.9h1M44.3 140.5h1M45.8 141.8h1M49.2 142.3h1M35 152.4h1M49.9 135.8h1M45.6 140.8h1M50.1 139.9h1M53.1 148.1h1M50.1 142.9h1M45.5 147.1h1M42.2 148.6h1M44.4 132.2h1M59.4 139.8h1M52.1 146h1M51.1 135.4h1M47.1 147.3h1M45.8 147.6h1M39.3 145.8h1M45 147h1M41.7 148.3h1M51.6 135.5h1M49.8 132.2h1M38.4 143.7h1M40.9 145.1h1M49.8 139.7h1M55.1 143.4h1M40.3 145.3h1M49.6 145.4h1M56.2 133.1h1M39.8 143h1M52.8 150.1h1M49.6 143.3h1M40.9 138.4h1M49.3 144.4h1M52.1 138.7h1M54.1 138.5h1M49.8 147.5h1M45.9 142.5h1M44.8 148.1h1M37.1 144.1h1M48 145.2h1M44.8 147.4h1M43.6 144.1h1M45.2 140.3h1M47.7 142.1h1M52.6 135.8h1M52.6 140.5h1M46.5 146.6h1M47.1 139.8h1M49.5 144h1M38.1 151.9h1M51.8 137.1h1M49.3 148.5h1M47.4 141.8h1M43 142.3h1M46.2 146.8h1M41.5 140.6h1M49.8 146.2h1M43 139.8h1M52 143h1M58.4 141.4h1M43 138.9h1M47.7 141.1h1M47.6 147.2h1M40.6 145.3h1M56.4 145.1h1M57.5 139.3h1M41.7 143h1M51.1 145.9h1M35.2 144.1h1M41.9 142.1h1M36.1 146.2h1M41.6 150.8h1M47.2 142.1h1M43.5 149h1M47.8 150.5h1M52.5 139.3h1M60.3 135.7h1M51.1 140.7h1M47.1 148.8h1M58.5 137.7h1M45.3 148.4h1M58.6 137.7h1M41.7 141.1h1M60.6 139.7h1M50.6 143.9h1M45.7 138.4h1M68.4 137.2h1M48.6 138.9h1M47.4 139.5h1M52.6 146h1M41.5 144.5h1M54.2 139.9h1M54.8 147.1h1M50.9 144.7h1M49.5 140.8h1M42 145.1h1M41.4 143h1M42.5 146.2h1M49.1 145.3h1M55.1 143.7h1M54.3 139.8h1M41.6 145.1h1M42.7 145.5h1M48.9 134.3h1M47.6 135.7h1M49.8 148h1M34.5 142.9h1M36.6 142.2h1M55.5 139.1h1M46.9 144h1M49.8 143.5h1M44.6 145.1h1M55.3 143.6h1M49.6 147.4h1M42.3 150.1h1M48 139.6h1M49.9 144.4h1M52 143.2h1M51.2 140.6h1M49.1 153.4h1M41.1 140.8h1M50.4 132h1M46.4 145.5h1M58.7 137.6h1M61.2 137.1h1M48 139.4h1M43 145.8h1M44.7 144.4h1M52.9 143.6h1M50 144.4h1M50.9 154.2h1M47.4 142h1M42.8 139.4h1M51.4 136.1h1M55.4 138h1M46.3 147.9h1M46.6 145h1M49.6 144.3h1M66.1 145.3h1M55.4 142.9h1M48 138.5h1M47.1 148.2h1M50.9 142.8h1M35.6 144.7h1M40.9 147.7h1M51.9 140.3h1M49.2 132.7h1M50.5 144.8h1M49.9 142.7h1M42 134.9h1M47 144.1h1M46 138.7h1M50.7 134.4h1M55.4 133.5h1M48.2 140.9h1M45.5 144h1M36.8 147.9h1M41.7 147h1M56.5 139.4h1M57.3 136.6h1M55.5 136.3h1M45.6 139.6h1M45.8 145.5h1M58.6 130.4h1M44.3 135.8h1M52.8 145.2h1M50.7 140.3h1M50.5 143.6h1M40.4 144.3h1M54.9 137.5h1M54 136.3h1M42.1 144.2h1M51.8 137.3h1M50.1 139.8h1M51.8 132.4h1M34.6 146h1M64.5 137.6h1M37 144.7h1M38.6 147.9h1M51.9 134.1h1M52.2 138.6h1M55.2 140h1M42.9 144.3h1M50.3 143.3h1M43.8 145.2h1M37.8 149.6h1M47.5 144.3h1M50.4 135.8h1M50.4 142.2h1M39.8 149.4h1M49.9 146h1M50 146.9h1M49.3 142.6h1M54.4 142.8h1M46.4 141.9h1M50.8 134.4h1M46.2 145.4h1M47 140.8h1M50.8 138.9h1M42.6 132.9h1M60.2 139.8h1M41 143.6h1M48.6 152.4h1M46.9 149.4h1M53 135.3h1M53.3 148h1M58.3 136.1h1M46.8 140.7h1M57.8 141.7h1M47.8 145.2h1M53.4 150.9h1M56.4 144.9h1M52.5 148.7h1M41.9 146.8h1M51.9 148.9h1M51.6 144.6h1M56 142.1h1M51.4 142.6h1M59.5 141.4h1M50.6 133.2h1M49.8 139.1h1M44 142.7h1M34.2 145.5h1M42.7 150.6h1M40.8 139.3h1M49.5 149h1M59.2 143h1M46.4 141.9h1M39.4 151.9h1M45.1 138.1h1M52.7 148.5h1M56.2 140.5h1M51.7 141.5h1M50 146.6h1M41.9 147.2h1M46.9 140.1h1M42.6 136.9h1M43.8 146.2h1M53.5 139.4h1M45.1 148.1h1M40.3 151.6h1M57 135.6h1M60.9 137.3h1M51.5 138.4h1M54.2 142.3h1M53.2 131.8h1M36.1 151.7h1M43.3 140.4h1M55.7 142.3h1M52.7 141.7h1M49.8 144.6h1M48.3 142.6h1M58.3 130.2h1M37.6 142.8h1M49.6 137.9h1M56.1 137.2h1M52.5 145.7h1M39.6 137.3h1M55.1 145.1h1M57.5 137.4h1M33.9 142h1M43.6 138.5h1M43.3 147.1h1M38.4 145.9h1M54.2 144.1h1M39.2 135.2h1M61 136.4h1M43.7 149h1M38.7 142.4h1M55.5 145.5h1M48.2 143.8h1M47.4 140.5h1M61.1 142.3h1M55.2 136h1M46.5 143.6h1M41.2 139.5h1M44.4 146.4h1M47.9 146.4h1M41.5 145.5h1M57.7 141.2h1M50.2 148.6h1M38.2 136.9h1M44.2 150.4h1M48.5 139.8h1M36.5 149.3h1M49.1 146.5h1M54.7 136.7h1M50.8 143.8h1M47.5 145.6h1M48 141.2h1M47.7 138.4h1M64.4 141.1h1M51.6 138.1h1M52.3 142.6h1M46.6 138.5h1M53.1 139.1h1M44.1 140.8h1M53.4 142.1h1M55.1 131.2h1M37.2 142.5h1M39.5 150.8h1M47.6 140.3h1M47.5 147.9h1M38.7 147.4h1M47.6 146.4h1M40.9 136.5h1M43 144.5h1M44.3 146.1h1M48.4 143.8h1M51.1 147.2h1M41.3 135.6h1M48.9 139h1M56.7 138h1M46.9 149.8h1M39.4 140.3h1M53.5 138.8h1M35.4 155.2h1M40.4 149.7h1M48.3 147.1h1M57.9 143h1M45.9 139.3h1M49.6 146.3h1M56 132.1h1M40.4 145.6h1M39.3 153.4h1M53.3 138.2h1M55.2 139h1M35.6 145.8h1M42.8 149.1h1M42.3 140.6h1M48.9 133.6h1M49.3 150.9h1M55.7 135.2h1M47.3 148.2h1M58.3 146h1M45.7 151.7h1M38.5 152.5h1M56.9 135.2h1M44.3 149.6h1M48.6 140.8h1M37.3 150.4h1M48.7 139.3h1M49.5 140.2h1M37.6 156.3h1M49.4 146.4h1M47.3 144.5h1M50.7 145.4h1M57.8 140.1h1M52.6 138.7h1M55.7 138.9h1M36.5 148.2h1M61 137.3h1M52.7 139.4h1M43.6 146.7h1M45.7 138h1M52.9 133.4h1M53.9 132.7h1M50.1 147.5h1M60.1 138.2h1M56.5 139.6h1M46.6 142.2h1M39.8 150h1M42.1 146.4h1M39.6 145.1h1M52.9 132.3h1M60.4 139.9h1M54 142.2h1M51 142h1M45.1 143h1M39.4 142.7h1M45.3 148.2h1M46.8 140.4h1M44.7 141.3h1M54 134.1h1M41.3 144.7h1M53.6 134.5h1M51.1 138.5h1M38.3 147.6h1M59 141.3h1M61.7 142.6h1M44.8 150.6h1M52.9 140.2h1M61.8 138.5h1M45.2 149.7h1M49.1 138.1h1M54.8 135.4h1M54.1 141.4h1M52.6 140.7h1M41.8 136.3h1M49.7 147h1M51.4 140.5h1M56.7 133.9h1M57.4 144.7h1M36.7 144.1h1M51.1 140.3h1M40.7 146.5h1M50.7 138.6h1M63.2 137.6h1M41.8 154.9h1M55.4 141.4h1M46.6 147.5h1M51.2 150h1M49.4 141.7h1M52 135.7h1M48 142.2h1M52.3 148.7h1M46.7 142.6h1M53.8 144.9h1M54.2 139.4h1M37 152.1h1M39.3 144.1h1M50.7 138.7h1M53.2 143.9h1M56.5 136.8h1M52.2 139.4h1M40.5 142.8h1M40.3 149.9h1M46.4 142.4h1M47.8 144.2h1M42.2 143.2h1M42 150.5h1M50.8 135.3h1M44.6 148.3h1M59.6 132h1M46.3 144h1M53.4 127.8h1M50.6 137.4h1M49.2 150.7h1M39.8 150.3h1M51.5 141.3h1M59.9 141h1M50.6 141.6h1M52.2 131h1M52.1 134.9h1M56.3 143.4h1M52.6 143.3h1M49.4 141.6h1M48.1 144.8h1M58.4 141.3h1M55.1 133.2h1M53.8 136.5h1M58.9 135h1M58.1 146.7h1M61.4 139.2h1M36.2 148.4h1M39.3 144.8h1M37.5 149.8h1M50.6 141.3h1M43 144.9h1M47.9 142.3h1M48.2 143.6h1M52.4 149h1M45.4 142.6h1M45.2 145.8h1M45.9 142.2h1M56.5 141.4h1M47.2 141.2h1M44.6 152.4h1M49.8 143.9h1M45.5 140.3h1M48.1 145.2h1M48.5 143.1h1M51.7 140.7h1M43.8 149.5h1M41.1 144.9h1M41.8 140.6h1M37.6 153.4h1M45.1 151.5h1M58 144.8h1M47.9 143.8h1M41 152.5h1M37.3 141.2h1M57.8 130.3h1M39.5 142.1h1M49.4 138.4h1M46 139.8h1M55.1 138.1h1M57.8 141h1M57.8 143.5h1M56.2 153.3h1M47.6 146.4h1M49.7 137.4h1M53.4 140.9h1M58 147h1M44.9 136.4h1M48.2 152.1h1M49.3 147.8h1M59.6 134.5h1M46.4 137h1M44.1 139.3h1M52.2 142.2h1M38.8 146.1h1M37.7 139.5h1M39.2 156h1M52.8 139.8h1M47.7 132.9h1M53.7 140.9h1M52.8 137h1M42.9 150.4h1M46.2 150.8h1M49.5 138.7h1M58.8 138.8h1M50.7 138.5h1M57.4 141.8h1M39.4 148.3h1M39.1 148.9h1M48.1 141h1M49.6 141.9h1M46.7 141h1M55.3 137.4h1M58 141.5h1M48.9 134.6h1M50.3 140.2h1M47.4 138.3h1M44.6 148.1h1M47.6 144.8h1M53.6 143h1M49.1 143.4h1M50 145h1M54.1 147.7h1M45.1 146.6h1M52.8 141.3h1M51.3 143.3h1M42.4 149.1h1M45.7 145.7h1M50.8 140.3h1M54.8 141.5h1M42.3 148.9h1M49.3 140.6h1M61.6 138.5h1M62.3 130.5h1M43 138.2h1M57.6 134.1h1M49.6 137.8h1M45.2 143.6h1M50.8 133.7h1M48.2 138.2h1M48.1 145.9h1M50.9 138.9h1M44.6 140.5h1M42.7 147.9h1M49.7 143.3h1M40.1 152.1h1M48.9 141.3h1M45.7 142.3h1M38.9 143h1M51.6 140.5h1M44.6 143.1h1M50.6 137.1h1M50.6 140.8h1M44.8 139.4h1M55.6 143h1M53.1 140h1M46.6 148.9h1M57.9 148.8h1M50 143.9h1M55.5 142.7h1M49.5 139.4h1M50.9 144.3h1M53.5 139.5h1M54.4 143.4h1M47.7 144.5h1M43.3 142.6h1M52.9 134.9h1M46.8 141.1h1M55.9 141.2h1M49.1 141.7h1M42.8 148.4h1M56.1 139.9h1M46.5 148.7h1M50.7 136.6h1M39.9 148.7h1M57.5 133.7h1M58.1 142.7h1M51.5 145.2h1M51.5 143.5h1M51.4 135.6h1M50.4 143.1h1M49.2 141.1h1M45.4 142.3h1M54.3 133.9h1M41.4 140.2h1M64.8 137.7h1M50.7 136.8h1M44.6 145.7h1M50 144.8h1M55.8 140.7h1M54 129.5h1M46.7 138.7h1M44.6 137.7h1M55 140.3h1M56.9 133.1h1M57.5 140.3h1M49.5 137.2h1M38.1 147.8h1M52.4 139h1M62.8 131h1M51.1 139.8h1M39.7 145.5h1M49.9 143.2h1M49.6 139.5h1M41.6 146.8h1M38.2 139.8h1M39.6 152.4h1M53.3 142.3h1M54.4 142.8h1M63.2 135.7h1M49.6 141.7h1M48.1 138.9h1M61.1 141.4h1M42.1 141.3h1M53.7 148h1M42.8 148.4h1M52.8 139.2h1M42.4 149.1h1M50.5 151.4h1M52.5 142.2h1M62.2 134.7h1M44.4 144.7h1M45.8 146.5h1M50.2 137.7h1M38.4 146h1M59.1 136.6h1M42.2 147.7h1M41 151.6h1M56.1 140.4h1M42.3 150.5h1M45.4 145.6h1M59.1 142h1M50.5 137.1h1M52.6 142.3h1M36 139.2h1M51.9 143.7h1M46.8 147.2h1M40.9 151.1h1M52.4 139.2h1M50.6 138.5h1M52.1 141.1h1M43.5 141h1M56.9 137.6h1M56 142.8h1M43.6 138h1M45 142.2h1M47.3 142.7h1M46.1 145.5h1M39.2 136.1h1M47.6 151.4h1M41.3 149.3h1M40.7 155.9h1M54.2 133.7h1M47.8 139.3h1M50.9 147.5h1M54.4 148.7h1M44.4 145.1h1M56.8 140h1M46.8 146.6h1M49.1 142.2h1M54.9 134.7h1M53.3 141.3h1M49.4 135.1h1M49.8 142.3h1M62 132.2h1M52 142.1h1M45.7 138.4h1M46.7 138.6h1M43.6 143.2h1M51.3 141.2h1M50.5 140.3h1M39.9 149.6h1M49.7 134.1h1M46.6 147.1h1M44.3 143.4h1M55.5 143.4h1M52.3 140.7h1M45.1 147.6h1M46.7 146.2h1M49.9 150.1h1M56.7 137.1h1M54 134.4h1M50.4 149.7h1M49.4 140.3h1M42.8 149h1M51.9 139.4h1M45.5 144.3h1M44.6 146h1M49.4 137.5h1M37.7 146.6h1M59.3 138.5h1M50.5 138.3h1M40.6 149.8h1M36.1 152.1h1M51.1 138.1h1M45 146.4h1M51.8 138.9h1M47.9 151.2h1M42 155.4h1M49.1 146.2h1M46 136.3h1M57.6 138.1h1M50.5 141.2h1M44.7 143.7h1M59.8 143.7h1M44.4 142.8h1M55.2 137.1h1M42.1 144.6h1M45.4 148.8h1M48.4 144.7h1M54.9 139h1M43.6 143.3h1M45.5 146.1h1M46.6 138.2h1M43.8 151.3h1M44.5 139.9h1M61.1 144.2h1M45.8 144.6h1M39.9 142.8h1M48.5 141.2h1M62.6 140.3h1M54.6 137.3h1M43.7 146.3h1M59.3 136.7h1M48.1 147.5h1M54.8 138.6h1M64.3 132.1h1M54 140h1M48.3 145h1M50.8 140.9h1M54 136.3h1M49.9 144.6h1M55.5 133.8h1M43.6 141.8h1M52.6 139.1h1M51.6 142.1h1M49.8 134.6h1M58 146.5h1M43.6 146h1M38.7 143.3h1M47.5 145.2h1M57.1 129.5h1M59.3 134.6h1M46.6 140h1M49.6 137h1M52.2 141.8h1M51.2 145.1h1M55.3 134.1h1M46.8 140.4h1M38.9 140.6h1M52.9 146h1M59.8 139.2h1M35.8 151.7h1M53.8 142.4h1M53.8 148.2h1M49 138h1M44.9 140.3h1M46.6 141.4h1M53.2 131.4h1M41.5 140.7h1M55.6 145.8h1M51.7 131.4h1M51.8 155h1M45 151h1M49.6 145.5h1M43.9 147.4h1M49.8 144.3h1M42.4 145h1M50.1 145.9h1M53.7 148.7h1M50.7 143.7h1M57.8 143.1h1M42.7 149.9h1M62 136.5h1M41.2 145.8h1M44.1 136.7h1M48.8 151.5h1M50.9 137.8h1M49.1 140.2h1M48 141.7h1M49 145.5h1M50.9 141.2h1M47.5 145.8h1M42.3 142.9h1M51 152.7h1M46.6 136.9h1M53.5 144.5h1M56 145.1h1M45.7 134.5h1M45.5 144.2h1M36.7 149.9h1M40.8 145h1M38 140.3h1M45.5 145.9h1M45.3 139.9h1M57.9 142.1h1M60.7 132.3h1M57.5 139h1M39.7 141.6h1M46.1 142.2h1M36.1 146.8h1M48.9 146.6h1M52.3 134.1h1M49.2 145.4h1M61.3 149.1h1M43.1 142h1M42 154.4h1M51.1 138.1h1M45.1 136.7h1M53.1 136h1M38.7 144.9h1M61.1 130.4h1M57 140.4h1M48.9 145.2h1M54.7 144.1h1M46.9 152.2h1M40.9 136.4h1M49.1 141.4h1M34.3 146.1h1M60.1 146.4h1M44.8 144.3h1M38.8 150.9h1M41.3 141.4h1M49.2 138.6h1M42.2 141.4h1M45.8 142.8h1M54.6 140.9h1M44.3 151h1M49.8 138.6h1M44.3 143.8h1M35.5 151.7h1M52.6 135.7h1M44.5 151h1M44.2 150.6h1M51 126.4h1M57.2 142.7h1M65.2 144.5h1M57.6 139.9h1M58.8 153h1M61.7 134.6h1M44.3 129.8h1M54.2 136.2h1M60 134.5h1M47.1 146.1h1M58.1 136.7h1M60.2 138.8h1M48.8 132.8h1M59.1 133.1h1M46.8 140.6h1M48.8 143.9h1M56.1 138.8h1M45.6 137.2h1M44.9 138.1h1M50 148.9h1M66.7 128.4h1M52.9 141.9h1M64.4 152h1M44.5 132.6h1M63.8 145.4h1M45.6 138.7h1M38.7 145.4h1M60.4 135.5h1M65.6 152.9h1M40 147.9h1M39.8 125.2h1M43.4 144h1M56.2 137.9h1M69.8 150.1h1M63.6 140.3h1M41.2 140.3h1M38.7 128.6h1M46 133.5h1M68.2 146.4h1M44.2 140.5h1M42.6 134.4h1M55.9 147.6h1M46.5 135.7h1M38.2 128.1h1M45.4 143.1h1M43.9 128.6h1M63 131.2h1M61.1 140.8h1M72.5 136.2h1M58.8 136.9h1M62.1 139.3h1M52.2 154.2h1M76.5 151.9h1M75.2 131.8h1M47.4 139.4h1M50.3 139.2h1M66.8 151.1h1M57.6 140.9h1M55.6 140.3h1M50 152.4h1M59 138.4h1M60.3 131.5h1M34.4 124.4h1M44 138.3h1M53.8 135.7h1M89.3 145.6h1M52.1 146.3h1M56.7 137.3h1M43.3 131h1M66.6 137.9h1M52.8 143.4h1M35.9 136.3h1M43.3 145.5h1M65 148.9h1M48.3 134.6h1M74.4 147h1M66.1 146.7h1M58.3 137.6h1M41.5 133.3h1M73.8 141.1h1M57 150.9h1M73.7 141h1M40 135.4h1M37.9 147h1M78.3 146.6h1M46.8 146.1h1M47.8 137.1h1M70 149.6h1M58.8 155.9h1M70.8 142.2h1M46.3 129.3h1M52.8 130.5h1M65.8 128.2h1M45.2 141h1M58.1 143.1h1M70.8 147.2h1M65 130.6h1M44.1 145.9h1M58.3 142.9h1M54.9 145.2h1M53.1 137.6h1M62.2 147.8h1M52.7 147.6h1M52 153h1M64.5 136.1h1M52.7 147h1M49 146.8h1M37 128.4h1M90.2 151.3h1M41.2 136.9h1M60.7 154.1h1M48.6 140.8h1M54 146h1M52.4 143.9h1M67.7 142.2h1M53.6 145.7h1M47 147.4h1M54.1 126.8h1M66.3 139.6h1M72.4 133.4h1M56.3 142.8h1M41.9 139.5h1M50.5 154.2h1M39.9 126h1M56.4 137.5h1M56.2 145.2h1M59.1 132.8h1M50.6 137.4h1M65.3 145.4h1M55.9 147.4h1M60.6 144.5h1M66.6 147.6h1M72.6 144h1M44.8 148.7h1M61.3 148.3h1M73.8 131.2h1M59.7 152.9h1M53.7 147.3h1M34.1 138.1h1M78.2 145.8h1M62.9 131.2h1M43.4 144.2h1M57 137.7h1M41.4 139.8h1M52.8 133.9h1M36.4 146h1M48.5 144h1M61.9 146.5h1M84.1 147.2h1M63.2 133.3h1M64.6 143.1h1M44.9 143.5h1M61.3 140.5h1M60.4 136.9h1M44.3 149h1M69.9 145.4h1M36.6 126.6h1M44.8 149h1M64.6 150.6h1M44.4 133.1h1M45 121.4h1M55.1 120h1M55.4 141.1h1M46.9 143.3h1M48.5 141.7h1M62.5 151.7h1M70.5 142.1h1M53.8 142h1M65 138.9h1M63.4 142.8h1M52.7 141.9h1M36.6 149.5h1M61.4 141.1h1M62.9 127.9h1M74.5 130.4h1M51.5 125.1h1M44.3 142.2h1M65 143.2h1M52.7 144.3h1M68 133h1M53.2 137h1M43.3 132.6h1M87.7 148.9h1M69.4 142h1M50.3 145.4h1M51.9 151.5h1M39.1 128.2h1M53.8 137.1h1M57.4 137.7h1M37.2 149.1h1M61 133.5h1M41.4 146.1h1M42.2 136.3h1M57.8 141.2h1M46.9 138.8h1M54.4 147.4h1M57.7 146.8h1M64.5 136.5h1M46.4 136.8h1M54.7 147.1h1M43.9 154.8h1M41.6 138.7h1M67.3 146.5h1M55.8 138.7h1M62.6 138h1M67.5 135.4h1M45.6 138.3h1M54.2 136.9h1M50.7 134.8h1M68.5 148.2h1M48 139.4h1M59.4 140.3h1M63.1 151h1M62.5 132.2h1M66.2 138.1h1M51.4 138.3h1M53.2 154.2h1M47.3 141.8h1M48.3 149h1M51.4 144.5h1M54.8 141.9h1M55.9 133.6h1M55.5 138.2h1M49.6 136.1h1M50.3 146.5h1M40.4 134.4h1M48.2 139.5h1M66.4 137.2h1M78.7 142.6h1M64.5 136h1M46.8 141.1h1M47.8 149.7h1M57.3 147.7h1M72.5 147.4h1M48 140.8h1M48.3 141.1h1M47.3 152.9h1M70.7 137.9h1M55.7 145.2h1M52.4 139.1h1M38.7 147.9h1M44.2 131.4h1M42.4 132.1h1M48.9 119.7h1M53.1 141.2h1M68.9 134.5h1M64.3 150.1h1M66.5 128.1h1M52.9 145.4h1M42 133.4h1M57.2 141.4h1M40.4 128.5h1M63.6 141.7h1M70.2 149.1h1M63.7 149.5h1M69.5 143.7h1M67.5 144.8h1M58.4 132.4h1M44.1 140.7h1M44.8 134.7h1M47.4 144.5h1M51.8 132.2h1M42.5 141.7h1M50.4 145.9h1M45.3 142.8h1M56.2 153.9h1M56.6 151h1M54.2 123.3h1M43.4 142h1M51.2 133.6h1M48.8 155.8h1M36.3 140.1h1M56.8 133h1M48.1 136.2h1M42.3 131.1h1M53.2 146.9h1M56 127.6h1M44.7 151.4h1M42.8 150.7h1M53.4 138.7h1M52.2 139.9h1M67 143.8h1M56.7 146.9h1M51.3 138.2h1M59.1 154h1M43.5 140.9h1M52.4 132.3h1M66.9 154.6h1M43.3 138.4h1M42.3 121.6h1M56.6 137.2h1M49.2 123.8h1M59.9 147.2h1M67.8 155h1M47.5 139.2h1M55.5 149.2h1M71.4 129.7h1M43.7 138.5h1M47 145h1M64.8 140.5h1M52.8 140.7h1M41.1 131.7h1M45.7 131h1M49 145.1h1M70.3 140h1M47 145.8h1M60.7 126.5h1M60.8 144.6h1M41.7 146.9h1M52.7 139.5h1M46.8 131.3h1M43.5 147.2h1M59.5 137.7h1M49.7 133.8h1M38.5 128.4h1M78.1 125.9h1M55.3 125.8h1M54.6 130.9h1M51.8 139.9h1M59.8 155.5h1M51.7 127.8h1M64.1 138.9h1M56.1 130.4h1M57.7 156.6h1M43.6 143.9h1M55.6 145.1h1M52.8 128.2h1M64.3 136.7h1M54.2 141h1M58 139.6h1M46 135.3h1M44.9 141.8h1M50.1 150.7h1M60.7 142.1h1M41.2 142.1h1M38.9 130h1M59.7 125.6h1M47.8 135.9h1M43.4 148.3h1M53 138.2h1M64.1 143.6h1M66.1 133.8h1M44.4 142.9h1M44 127.9h1M48 134.4h1M64 143.5h1M48.7 138.8h1M45.5 151.6h1M43.4 138.8h1M56.1 127.5h1M34 137.5h1M41.4 132.3h1M61.6 140.5h1M70.2 144.5h1M48.2 149.9h1M46.8 140.6h1M61.4 131.3h1M51.1 147.3h1M50.3 144.9h1M48.9 144.7h1M44.5 141.9h1M48.4 142.8h1M38.9 140.3h1M60.3 136.4h1M48 150.6h1M39.8 150.8h1M47 144h1M34.6 136.2h1M37.2 146.9h1M46.1 134.9h1M74.1 144.3h1M51 144.6h1M51.8 142.8h1M80.9 150.1h1M52.8 147.8h1M57.9 145.6h1M60.3 150.1h1M77 139.8h1M34.7 136h1M48.9 150.6h1M58.8 145.6h1M62 145.8h1M63.8 140.3h1M57.9 140.3h1M50 144.4h1M58.9 135.9h1M49.6 123.8h1M72.4 150.6h1M65.8 142.1h1M56.5 147.7h1M72 148h1M53.1 147.2h1M75 131.6h1M39.7 145h1M58 144.9h1M50.2 150h1M56.7 150.1h1M63 122.6h1M50.5 128.5h1M58.1 146.8h1M50.3 149.1h1M55.2 136h1M64.1 143.7h1M41 142.1h1M72.2 139.3h1M49.3 137.2h1M43.7 130.9h1M47.9 148.3h1M47.7 142.2h1M64.8 145.9h1M34.7 142.1h1M59.7 129.4h1M41.8 129.8h1M61.3 137.9h1M45.7 148.4h1M43.7 134.2h1M56.4 133.1h1M73.7 141.3h1M53.5 126.4h1M39.9 145h1M50 144.4h1M55.6 148.1h1M66.6 152.2h1M45.2 154.7h1M38.8 136.9h1M60.8 143h1M63.1 136.6h1M47.8 141.8h1M58 125.7h1M49.2 138.6h1M59.9 131.9h1M58.6 133.1h1M42.5 143.5h1M79.2 139.6h1M55 139.4h1M55.6 151.8h1M46.5 142.8h1M55.8 148.2h1M52.9 147.2h1M39.7 146.6h1M45.3 134.9h1M68.5 136.9h1M51.7 145.8h1M37 145.6h1M70.9 132.4h1M56.4 143.4h1M54 138.1h1M53.9 138.1h1M45.7 141.1h1M50.2 133h1M40.6 131.3h1M53.1 145.4h1M54.2 140.5h1M51.5 138.1h1M47.8 154.7h1M61.5 141.6h1M72 138.4h1M46.6 137.2h1M78 132.9h1M42.2 142.2h1M36.6 136.2h1M60.1 149.4h1M58.9 134.1h1M62.7 146.7h1M46.5 150.2h1M40 139h1M54.4 131.3h1M57 144h1M38.6 129.4h1M55.8 141.7h1M43.1 149.6h1M60.8 149h1M60.3 136.5h1M49.9 154.1h1M58.4 130.5h1M45.1 151.3h1M65.8 140.3h1M47.3 131.9h1M51 137.9h1M49.7 147.3h1M56.4 148.1h1M34.8 145.6h1M67.3 132.9h1M77.5 133.7h1M71.4 139.5h1M49.3 137.8h1M43.7 135.7h1M49.2 139.4h1M44.8 142.5h1M64.6 143.1h1M46.7 139.2h1M63.5 142.9h1M41.4 153.5h1M39.5 133.2h1M53 137.7h1M65.6 139.2h1M59.2 145.3h1M36.6 136.5h1M53 137h1M42.5 142.5h1M75.7 147.9h1M55.1 131.3h1M51.5 140.4h1M49.2 131.5h1M53 144.3h1M58.7 143.3h1M48.4 129.5h1M64.6 140.6h1M62.7 135h1M60.3 141h1M54.8 138.3h1M60.1 138.7h1M48.1 142h1M58.9 149h1M53.9 135.6h1M55.8 143.6h1M53.8 145.1h1M64.6 144.3h1M36.1 150.7h1M57.2 139.8h1M48.9 151.5h1M52.4 147.8h1M46.9 141.4h1M45.7 139h1M46 145h1M51.6 130.2h1M71 134.1h1M46.1 141.3h1M63.8 135.2h1M36.5 141.8h1M46 135.6h1M60.9 145.5h1M77.1 143.5h1M80.3 142.7h1M53.1 126.8h1M48.3 145h1M69.9 141.7h1M59.1 151h1M73.3 133.9h1M57.8 136h1M48.6 145h1M37.1 138.6h1M67.3 134.8h1M63.9 136h1M44.1 151.3h1M60.9 140.1h1M64.6 143.5h1M44.5 138h1M48 153.9h1M47.5 148.1h1M42 145.6h1M64.2 123.4h1M72.6 144.5h1M66.3 141.9h1M58.3 146.5h1M53.2 154.2h1M73.3 147.2h1M60.3 145.8h1M56.9 150.3h1M50 134.4h1M60.4 156.2h1M63.2 151.4h1M57.1 137.4h1M47.1 143.8h1M51.4 138.3h1M63.8 131h1M57.5 126.2h1M43.8 127.8h1M51.2 135.5h1M52.6 140.7h1M44.1 138.4h1M75.8 140.2h1M53.8 141.3h1M61.7 142.9h1M54 139.7h1M68 134.1h1M42.7 146.2h1M54.2 134.9h1M64.4 142.9h1M76.9 142.6h1M69.1 130.5h1M71.2 139.8h1M60.2 153h1M34.8 146h1M61.7 133.3h1M52.9 133.5h1M60.2 129.8h1M36.9 147.7h1M43.7 149.3h1M71.8 148.4h1M45.1 144.4h1M63.5 144.9h1M61.9 137.2h1M44.1 150.8h1M71.6 146.8h1M42.5 138.5h1M54.6 148.5h1M65.8 134.4h1M57 147.1h1M44.6 157h1M58.1 138.4h1M44.1 141.2h1M89.3 150h1M35.6 136.7h1M49.4 145.1h1M60.7 142.4h1M64.7 137.5h1M66.5 140.5h1M35.7 133.5h1M56.7 151.9h1M54.7 134.7h1M43 141.1h1M46 149h1M47.3 131.7h1M61.4 141.6h1M53.1 140.4h1M57.1 140h1M35.5 134.4h1M61.6 150.6h1M52.5 142.1h1M47.6 137.3h1M51.1 143.5h1M43.7 143.5h1M42.8 141.1h1M68.3 133.7h1M58.6 151.8h1M65.1 134.3h1M54.2 143.9h1M65.8 149.7h1M49.9 123.8h1M64.7 156.6h1M54.2 131h1M47.3 136.9h1M55.1 152.5h1M47.2 132.8h1M66.8 146h1M66.2 146.8h1M56.7 141.6h1M40.5 139h1M45 147.9h1M45 148.9h1M63.6 140.9h1M56.8 143.5h1M54.7 143.4h1M42.2 153h1M54.8 133.7h1M56.5 129.1h1M39.2 143.5h1M47.3 132h1M72.3 145.4h1M61.9 143.3h1M43.2 142.3h1M42.7 129.6h1M60.4 132.4h1M62.7 140.8h1M64.9 128.4h1M42.9 135.4h1M57.6 142.8h1M50.9 137.4h1M60.2 136.4h1M49.6 151.5h1M68.3 131.5h1M47.9 141.7h1M62.7 154.9h1M59.4 123h1M56.9 146.9h1M76.1 141.4h1M56.3 144.7h1M56 155.2h1M40.1 152.8h1M63.8 142.2h1M66.5 157.1h1M47.5 130.3h1M45.4 155.7h1M45.9 144.1h1M53.9 131.5h1M68.4 129.6h1M60.3 145.3h1M48.6 152.8h1M67.8 131.9h1M55 148.3h1M61.3 137.7h1M55.7 150.4h1M56.6 145.8h1M62 136.9h1M58.8 144.8h1M70.5 135.5h1M67.7 135.1h1M61.2 138.5h1M42.4 155.4h1M43.9 136.8h1M63.8 140.1h1M55 127.4h1M49.7 155.2h1M37.3 144h1M61.6 135.8h1M51.6 135.2h1M53.5 147h1M49.9 135.7h1M64.3 150.1h1M43.3 140.6h1M77 150.5h1M40.5 138.3h1M59.5 146.2h1M53.7 137.8h1M35.2 141.7h1M60.5 134.4h1M66.6 142h1M38.4 131.2h1M62.3 146.4h1M65.2 133.5h1M48.9 147.3h1M45 142.1h1M42.3 138.5h1M74.4 150.6h1M65.2 145.6h1M59.9 142.5h1M67.8 146.9h1M61.9 147.4h1M56.5 141.6h1M65.7 153.6h1M39.5 130.8h1M58.2 128.5h1M42.9 139.9h1M60.5 127.9h1M53.4 144.9h1M61.7 142.3h1M45.9 135.7h1M68.7 145.3h1M50.5 138.6h1M66.1 137.4h1M43.6 145.9h1M65.3 142.4h1M47.2 134.8h1M66.3 124.8h1M42.4 146.9h1M46.5 138.8h1M48.9 132.9h1M47.1 143.6h1M60.1 139.9h1M43.1 130h1M60.2 145.3h1M56.2 150h1M40.8 143.8h1M57.9 140.7h1M45.7 152.1h1M36 129.2h1M58 147.6h1M66.7 137.4h1M49.6 146.2h1M66.2 139h1M71.6 138.7h1M47.7 146.1h1M46.5 139.6h1M56.7 136.8h1M58.8 149.6h1M51.8 148.7h1M59.2 151.6h1M47.8 148.1h1M47.4 143.5h1M70.2 143.5h1M38.6 143.8h1M62 137.3h1M56.6 126.2h1M65.9 140.8h1M67 151.8h1M52.2 148.1h1M55.9 129.1h1M48.7 129.3h1M43.1 130.6h1M35.9 148h1M64.7 142.2h1M55.6 141.6h1M55.9 142.9h1M43.5 143.7h1M55.2 148.4h1M59 128h1M36.4 145.7h1M51 141.4h1M55 147.1h1M53.6 141.5h1M53.1 129.7h1M55.4 152.8h1M37.3 137h1M50.4 146.2h1M39.5 143.9h1M53 146.8h1M50.2 134.7h1M62.4 137.3h1M52.1 151.9h1M62.3 130h1M67.6 132.6h1M57 138.6h1M53.9 131.9h1M51.1 125h1M62.3 144h1M54 153.8h1M46.2 143.8h1M80.2 147.7h1M63.8 140.9h1M50.8 136.7h1M74.7 139.2h1M53.3 140.3h1M61.1 145.3h1M55.3 137.6h1M50.3 138.5h1M57.6 136h1M43.5 145.6h1M49.4 132.3h1M56.7 154.2h1M40.4 126.6h1M57.6 151.4h1M44.3 140.4h1M69.2 129.1h1M50.1 143.8h1M74.5 149h1M70.7 138.9h1M55 131.6h1M59.2 147.9h1M37.7 141.4h1M59.5 131h1M60.6 129.8h1M62.5 139.9h1M58.6 138.4h1M47.3 142.4h1M55.4 145h1M38.4 152.6h1M59.4 137.5h1M55.2 150.5h1M63.1 144.5h1M38.1 124.2h1M59.7 144.9h1M69.8 131h1M56.8 154.7h1M49.9 143.7h1M58.9 142.5h1M57.7 154h1M47.1 130.4h1M38.5 134.4h1M78.7 136.5h1M39.2 131.9h1M34.2 138.9h1M49.6 132h1M66.6 140h1M73.1 133.9h1M48.9 149.1h1M80.3 144.6h1M58.4 142.4h1M49 153.9h1M52.5 142.4h1M64.5 145.5h1M37.3 149.8h1M53.6 139.6h1M61.7 144.4h1M59.8 140.4h1M72 141.9h1M55.5 137.1h1M67 148.6h1M48.9 143.6h1M65.5 141.3h1M90 131.7h1M75.6 129.4h1M63.7 152.4h1M70.4 138.3h1M41.2 141.1h1M62.1 133.9h1M55.9 145.5h1M62.2 147.4h1M53.2 135.6h1M38.6 138.6h1M40.8 142.2h1M61.6 141.9h1M63.8 140.8h1M51.8 137.7h1M51.5 140.5h1M65.1 145.9h1M66.3 150h1M51.7 154.9h1M48.3 129.2h1M57.8 131.7h1M38.3 149.3h1M59 135.1h1M62.9 154.4h1M59.5 142.1h1M55.3 137.8h1M51 154.6h1M42.6 152.7h1M39.9 142.5h1M68 147h1M45.8 150.4h1M35.5 141h1M48.8 143.4h1M43.7 137.7h1M41.1 137.3h1M46.9 135.4h1M44.5 138.1h1M58.7 142.1h1M71.5 140.1h1M44.5 136.2h1M45.2 145.7h1M54.1 140.1h1M72.3 155h1M51.2 132.8h1M52.3 139h1M70.3 151h1M54.5 135.4h1M47.7 155h1M43.3 140h1M56 127.3h1M68.2 153.5h1M65.1 134.4h1M71.4 142.7h1M48 140.4h1M70.6 136.7h1M72.2 135.4h1M47.7 149.3h1M73.8 153.2h1M50.3 144h1M44.2 145.9h1M54.1 123.1h1M53.3 145.5h1M55.3 134.2h1M45.3 144.6h1M35.3 136.1h1M61.3 129.9h1M41.2 124.7h1M63.4 143.6h1M49.8 143.9h1M41 135.5h1M47.5 147.1h1M59.5 140.6h1M47.7 143.3h1M48.7 131.1h1M64.7 147.1h1M53.6 130.9h1M50.9 127.7h1M58.8 136.3h1M57.6 137h1M59.2 137.4h1M48.6 134.5h1M54.7 149.6h1M43.1 140.2h1M53.9 119.4h1M37.6 143.4h1M47.6 137.2h1M69.1 129h1M43.2 131.9h1M41 139.1h1M55.8 136.7h1M45.4 131.1h1M53.3 141.6h1M51.1 149.8h1M61.7 138.9h1M58.9 127h1M44.7 143.7h1M54.1 134.9h1M52.1 134.3h1M58.9 155.1h1M46.7 157.3h1M50.9 144.7h1M60.3 140.2h1M53.3 131.7h1M60.4 151.1h1M46.6 139h1M72.3 143h1M52.2 139.4h1M62.4 142.2h1M57.2 144.8h1M48.1 147.7h1M61.1 145.8h1M59.9 138.3h1M43.6 151h1M52.2 135.2h1M81.2 129.5h1M68.6 138.5h1M49.8 137.3h1M54.1 136.7h1M42.9 150h1M47.1 141.8h1M57.8 144.3h1M57.8 136.2h1M41.5 142.3h1M37.3 145.8h1M63.7 147.1h1M74 137.6h1M63.6 140.7h1M63.3 133h1M55.2 145.6h1M48.1 126.5h1M52 145.1h1M46.4 154.6h1M48.6 139h1M48.8 147.4h1M58.4 137.9h1M49.3 139.1h1M43.5 134.8h1M43.4 144.1h1M55.5 144.8h1M41.7 125.2h1M70.3 155.1h1M55.3 151.4h1M57.4 151.6h1M60.2 137.4h1M72.4 132.1h1M49.1 134.1h1M49.1 142.4h1M48.6 155.2h1M51.5 137.4h1M55.2 153.8h1M47 136.2h1M65.8 129.1h1M34.5 137.9h1M48.8 135.5h1M35.9 142.6h1M61.6 146.5h1M50.1 149.1h1M66 151.8h1M44.2 144.1h1M50.6 125h1M57 148h1M60.2 138.8h1M57 142h1M59 150.6h1M41.1 144.8h1M42.1 136h1M74.9 131.9h1M58.8 138.9h1M46.6 151.6h1M59.9 153h1M57.2 142.6h1M62.1 141.1h1M55.1 146h1M35.5 144.2h1M61.5 133.4h1M68.8 149.3h1M43.9 136h1M49.1 121.5h1M57.4 153.3h1M48 129.3h1M34.4 140.3h1M39.1 129h1M49.2 149.5h1M35.6 147.1h1M77.4 140.7h1M51.1 150.5h1M57.7 145.2h1M44.9 130.7h1M58.7 148.4h1M69.9 141.9h1M59.4 140.3h1M66.7 136.7h1M50.3 135.9h1M49.8 140.5h1M71.6 149.8h1M42.9 144.6h1M48.6 131.4h1M36.9 123.6h1M71 145h1M56 144.3h1M61.2 136.3h1M62.1 135.5h1M74.8 142.8h1M61.5 143h1M54.4 139.8h1M53.4 138.8h1M44.8 142.7h1M47.5 150.6h1M46.4 145.4h1M52.4 153.7h1M51.2 150.3h1M45.2 140h1M65.9 139.3h1M48.7 144.9h1M68.4 154.2h1M66.3 153.2h1M47.2 141.1h1M51.6 128.5h1M59.3 141.9h1M64.3 141.2h1M45.3 132.7h1M70.1 131.5h1M41.4 126.6h1M49.5 135.5h1M66.8 122.9h1M36.6 149.5h1M66.7 137.6h1M58.7 143h1M53.9 139.7h1M62.1 143.6h1M44.3 144.3h1M75.3 146.9h1M53.1 126.7h1M65.3 140.5h1M61.9 143.6h1M44.2 133.7h1M55.4 129h1M51.2 144.4h1M57.7 143h1M50.6 148.5h1M56.7 139h1M73.7 141.7h1M35.1 137.9h1M78.7 144.9h1M45.4 142.8h1M52 153.3h1M60.2 148.3h1M34.1 147.1h1M60.8 126.5h1M67.5 140h1M48.5 143.5h1M64.4 145.6h1M58.5 133.9h1M44.2 146.1h1M58.8 141.4h1M52.7 145.6h1M53.3 127h1M68.7 154.1h1M54.5 140.8h1M54.4 152.3h1M52.6 140.3h1M46.6 139h1M55.1 138.4h1M52.2 145.1h1M56 133h1M63.7 142.1h1M49 133.2h1M59.8 134.6h1M51 148.2h1M56 146.4h1M66.4 134.8h1M68.4 133.4h1M48.9 148.2h1M64.5 133.6h1M54.6 150.5h1M37.5 139.4h1M45.1 146.8h1M58.8 133.3h1M68 141.8h1M50.3 136.5h1M41.7 151.1h1M54.2 129.3h1M65 141.5h1M64.9 144.7h1M41.3 154.6h1M56.9 134.4h1M58 141.8h1M49.7 133h1M53.5 152.8h1M68.8 146.6h1M58.2 141.5h1M65.4 139.6h1M67.2 139.8h1M49 145.5h1M61 148h1M64 143.4h1M44 148.3h1M52.4 127.6h1M62.3 141.3h1M44.2 126.6h1M51 141.5h1M49.4 131h1M55.9 145.1h1M56 149.3h1M42.6 142.8h1M75.5 150.2h1M52.5 153.9h1M55.9 139.8h1M62 152h1M47.5 146.6h1M51.3 123.6h1M51.8 141.8h1M48.5 135.3h1M81.7 132.4h1M70.6 149.9h1M65.4 141.3h1M67.5 133.2h1M61.1 154.6h1M55.4 145.4h1M58.8 141.2h1M65.3 154.1h1M46 142.1h1M57.5 144.7h1M53.7 141.1h1M65.3 142.4h1M56.6 155.8h1M58.4 142.3h1M54 147.2h1M49.5 135h1M57.9 141.7h1M48.7 139.8h1M66.9 141.7h1M50 150.8h1M55.1 148.7h1M38.5 134.7h1M46.2 127h1M52.8 151.9h1M42.1 135.9h1M58.4 139.8h1M51.9 137.7h1M70.7 137.7h1M52.2 152.5h1M58.8 129.2h1M61 151.4h1M56 131.3h1M47.1 137.6h1M67.1 128.6h1M36.8 155.2h1M58.1 136h1M50.2 141.7h1M49.6 132.1h1M40.1 146.8h1M37.4 148.7h1M53.7 141.3h1M73.4 143.2h1M57.7 138.7h1M56.8 130h1M55.5 140.3h1M52.8 141.5h1M53.4 133.7h1M54.2 141h1M53.5 135.5h1M48.9 134.1h1M47.8 136h1M74.8 139.7h1M53.1 150.8h1M62 141.4h1M63.9 146.7h1M59.6 127.3h1M58.4 144.1h1M39.9 141.6h1M61.1 136.8h1M41.9 149.6h1M43.4 149.5h1M51 139.4h1M74.9 140h1M69.8 154.5h1M70.7 135.2h1M58.8 135h1M60.7 126.4h1M62.7 155.2h1M35 128.8h1M53.1 131.1h1M50.3 146.7h1M50.3 139h1M56 146.4h1M59.8 136.6h1M44 150.3h1M54.1 147h1M47.5 142.6h1M54.3 137h1M63 138h1M66.2 149.1h1M60.6 138.6h1M42.7 146.8h1M58.8 140.9h1M40.3 145.9h1M70.6 134.8h1M54.9 130.8h1M44.1 142.9h1M64.4 144.2h1M41.9 136.9h1M55.7 151.4h1M50.8 152.7h1M82.3 146.9h1M54.5 147.1h1M43.2 145.1h1M56.3 127.6h1M57.1 129.1h1M42.4 140.9h1M49.2 153.9h1M94.5 143.4h1M56.7 147.5h1M47.7 149.7h1M65.1 144.7h1M52.4 140.1h1M40.7 139.7h1M52.1 138h1M49.8 141.2h1M59.6 133.9h1M46.5 133.8h1M43.3 143h1M55.4 140.4h1M52 134.2h1M46.3 129.6h1M34.4 140.9h1M59.9 141.4h1M56.9 134.1h1M45.2 136.8h1M65.6 143.3h1M44.7 149.9h1M58.7 147.9h1M81 137h1M39.8 143.8h1M70.6 136.1h1M42.9 133.3h1M48.8 124h1M48 136.8h1M60.1 145h1M52.3 132.3h1M59.4 142h1" stroke="#000" stroke-width="1" fill="none"/>
<path d="M8.5 39 L15.2 55.2 L1.6 55.2 Z" fill="#000"/>
<path d="M8.4 55 V78 M8.4 125.5 V158" stroke="#000" stroke-width="1.6" fill="none"/>
<g transform="translate(14.8 119.2) rotate(-90)"><text class="b" x="0" y="0" font-size="18.2" textLength="39.8" lengthAdjust="spacingAndGlyphs">CD14</text></g>
<path d="M32.5 180.3 H65.5 M114 180.3 H134" stroke="#000" stroke-width="1.6" fill="none"/>
<path d="M149.6 180.3 L133.5 173.8 L133.5 186.8 Z" fill="#000"/>
<text class="b" x="69.3" y="187.3" font-size="17.6" textLength="40.5" lengthAdjust="spacingAndGlyphs">CD15</text>
<g transform="rotate(-0.45 323.8 98.6)">
<path d="M265.8 40.3H381.9V156.8" fill="none" stroke="#222" stroke-width="1"/>
<path d="M265.8 39.9V156.8H382.2" fill="none" stroke="#000" stroke-width="1.2"/>
<path d="M265.8 156.8v2.8M274.5 156.8v1.6M279.6 156.8v1.6M283.3 156.8v1.6M286.1 156.8v1.6M288.4 156.8v1.6M290.3 156.8v1.6M292 156.8v1.6M293.5 156.8v1.6M294.8 156.8v2.8M303.5 156.8v1.6M308.7 156.8v1.6M312.3 156.8v1.6M315.1 156.8v1.6M317.4 156.8v1.6M319.3 156.8v1.6M321 156.8v1.6M322.5 156.8v1.6M323.8 156.8v2.8M332.6 156.8v1.6M337.7 156.8v1.6M341.3 156.8v1.6M344.1 156.8v1.6M346.4 156.8v1.6M348.3 156.8v1.6M350 156.8v1.6M351.5 156.8v1.6M352.8 156.8v2.8M361.6 156.8v1.6M366.7 156.8v1.6M370.3 156.8v1.6M373.1 156.8v1.6M375.4 156.8v1.6M377.4 156.8v1.6M379 156.8v1.6M380.5 156.8v1.6M381.9 156.8v2.8M265.8 156.8h-3M265.8 152.1h-1.8M265.8 147.5h-1.8M265.8 142.8h-1.8M265.8 138.2h-1.8M265.8 133.5h-3M265.8 128.8h-1.8M265.8 124.2h-1.8M265.8 119.5h-1.8M265.8 114.9h-1.8M265.8 110.2h-3M265.8 105.5h-1.8M265.8 100.9h-1.8M265.8 96.2h-1.8M265.8 91.6h-1.8M265.8 86.9h-3M265.8 82.2h-1.8M265.8 77.6h-1.8M265.8 72.9h-1.8M265.8 68.3h-1.8M265.8 63.6h-3M265.8 58.9h-1.8M265.8 54.3h-1.8M265.8 49.6h-1.8M265.8 45h-1.8M265.8 40.3h-3" stroke="#000" stroke-width="0.9" fill="none"/>
<text class="t" x="268.2" y="164.8" font-size="5.6" text-anchor="end">10</text><text class="t" x="268.6" y="162.5" font-size="4.6">0</text>
<text class="t" x="296.9" y="164.8" font-size="5.6" text-anchor="end">10</text><text class="t" x="297.3" y="162.5" font-size="4.6">1</text>
<text class="t" x="325.5" y="164.8" font-size="5.6" text-anchor="end">10</text><text class="t" x="325.9" y="162.5" font-size="4.6">2</text>
<text class="t" x="354.2" y="164.8" font-size="5.6" text-anchor="end">10</text><text class="t" x="354.6" y="162.5" font-size="4.6">3</text>
<text class="t" x="382.9" y="164.8" font-size="5.6" text-anchor="end">10</text><text class="t" x="383.2" y="162.5" font-size="4.6">4</text>
<g transform="translate(261.9 157.4) rotate(-90)"><text class="t" x="0" y="0" font-size="5.6" text-anchor="middle">0</text></g>
<g transform="translate(261.9 134.1) rotate(-90)"><text class="t" x="0" y="0" font-size="5.6" text-anchor="middle">20</text></g>
<g transform="translate(261.9 110.8) rotate(-90)"><text class="t" x="0" y="0" font-size="5.6" text-anchor="middle">40</text></g>
<g transform="translate(261.9 87.5) rotate(-90)"><text class="t" x="0" y="0" font-size="5.6" text-anchor="middle">60</text></g>
<g transform="translate(261.9 64.2) rotate(-90)"><text class="t" x="0" y="0" font-size="5.6" text-anchor="middle">80</text></g>
<g transform="translate(261.9 40.9) rotate(-90)"><text class="t" x="0" y="0" font-size="5.6" text-anchor="middle">100</text></g>
<path d="M266.8 155.8 L267.5 155.3 L268.2 154.1 L268.9 151.8 L269.6 150.1 L270.3 149.1 L271 146.1 L271.7 144.1 L272.4 139.7 L273.1 135.1 L273.8 129.6 L274.5 123.8 L275.2 114.3 L275.9 109.7 L276.6 102.8 L277.3 102.9 L278 94 L278.7 96.2 L279.4 90.1 L280.1 94.5 L280.8 94.3 L281.5 97.8 L282.2 104.1 L282.9 103.3 L283.6 107.2 L284.3 115.1 L285 115.6 L285.7 116.2 L286.4 123.7 L287.1 126.5 L287.8 125.9 L288.5 130.7 L289.2 132.8 L289.9 136.6 L290.6 140.6 L291.3 141.9 L292 146.1 L292.7 146.4 L293.4 148.4 L294.1 151.2 L294.8 151.6 L295.5 152.6 L296.2 153.5 L296.9 153.7 L297.6 153.9 L298.3 153.8 L299 155.1 L299.7 155.7 L300.4 156 L301.1 155.9 L301.8 155.8 L302.5 156 L303.2 156.3 L303.9 156.4 L304.6 156.1 L305.3 156.3 L306 156.5" stroke="#111" stroke-width="1.25" stroke-dasharray="1.1 1.1" fill="none" stroke-linejoin="round"/>
<path d="M267 156.4 L267.7 156.5 L268.4 156.5 L269.1 156.3 L269.8 156.4 L270.5 155.9 L271.2 156.2 L271.9 156.2 L272.6 156.2 L273.3 155.1 L274 155.2 L274.7 154.6 L275.4 155 L276.1 153.4 L276.8 149.5 L277.5 149.9 L278.2 147.6 L278.9 144.1 L279.6 140.8 L280.3 134.7 L281 129.1 L281.7 127.1 L282.4 119.7 L283.1 116.3 L283.8 112.7 L284.5 106.8 L285.2 102.5 L285.9 99.2 L286.6 100.1 L287.3 99.7 L288 99.9 L288.7 99 L289.4 100.2 L290.1 98.4 L290.8 98.7 L291.5 108.1 L292.2 113.4 L292.9 117 L293.6 119.8 L294.3 121 L295 124 L295.7 127.7 L296.4 129.6 L297.1 136 L297.8 137.1 L298.5 141.8 L299.2 142.5 L299.9 147.2 L300.6 148.9 L301.3 147.8 L302 149.3 L302.7 151.8 L303.4 151.3 L304.1 153.2 L304.8 152.3 L305.5 152 L306.2 153.5 L306.9 154 L307.6 153.2 L308.3 153.1 L309 153.8 L309.7 155.1 L310.4 155 L311.1 154.1 L311.8 154.5 L312.5 154.5 L313.2 154.7 L313.9 155.8 L314.6 155.1 L315.3 155.7 L316 155.6 L316.7 155.4 L317.4 156.1 L318.1 155.5 L318.8 156.2 L319.5 155.7 L320.2 156.1 L320.9 156 L321.6 156.1 L322.3 156.4 L323 156.2 L323.7 156.6 L324.4 156.3 L325.1 156.5 L325.8 156.1 L326.5 156.6 L327.2 156.3 L327.9 156.6 L328.6 156.4 L329.3 156.3 L330 156.3" stroke="#000" stroke-width="2.0" fill="none" stroke-linejoin="round" stroke-linecap="round"/>
<text class="b" x="373.8" y="59" font-size="14" text-anchor="end" textLength="30" lengthAdjust="spacingAndGlyphs">MPO</text>
</g>
<path d="M284.8 112 L285.2 99 L285.9 91.5 L286.6 99 L288 97.5 L291.2 97 L291.8 110 L290 112 Z" fill="#000"/>
<g transform="rotate(-0.45 456.3 97.9)">
<path d="M398.7 39.8H513.9V156.1" fill="none" stroke="#222" stroke-width="1"/>
<path d="M398.7 39.4V156.1H514.3" fill="none" stroke="#000" stroke-width="1.2"/>
<path d="M398.7 156.1v2.8M407.4 156.1v1.6M412.4 156.1v1.6M416 156.1v1.6M418.8 156.1v1.6M421.1 156.1v1.6M423 156.1v1.6M424.7 156.1v1.6M426.2 156.1v1.6M427.5 156.1v2.8M436.2 156.1v1.6M441.2 156.1v1.6M444.8 156.1v1.6M447.6 156.1v1.6M449.9 156.1v1.6M451.8 156.1v1.6M453.5 156.1v1.6M455 156.1v1.6M456.3 156.1v2.8M465 156.1v1.6M470 156.1v1.6M473.6 156.1v1.6M476.4 156.1v1.6M478.7 156.1v1.6M480.6 156.1v1.6M482.3 156.1v1.6M483.8 156.1v1.6M485.1 156.1v2.8M493.8 156.1v1.6M498.8 156.1v1.6M502.4 156.1v1.6M505.2 156.1v1.6M507.5 156.1v1.6M509.4 156.1v1.6M511.1 156.1v1.6M512.6 156.1v1.6M513.9 156.1v2.8M398.7 156.1h-3M398.7 151.4h-1.8M398.7 146.8h-1.8M398.7 142.1h-1.8M398.7 137.5h-1.8M398.7 132.8h-3M398.7 128.2h-1.8M398.7 123.5h-1.8M398.7 118.9h-1.8M398.7 114.2h-1.8M398.7 109.6h-3M398.7 104.9h-1.8M398.7 100.3h-1.8M398.7 95.6h-1.8M398.7 90.9h-1.8M398.7 86.3h-3M398.7 81.6h-1.8M398.7 77h-1.8M398.7 72.3h-1.8M398.7 67.7h-1.8M398.7 63h-3M398.7 58.4h-1.8M398.7 53.7h-1.8M398.7 49.1h-1.8M398.7 44.4h-1.8M398.7 39.8h-3" stroke="#000" stroke-width="0.9" fill="none"/>
<text class="t" x="401.1" y="164.7" font-size="5.6" text-anchor="end">10</text><text class="t" x="401.5" y="162.3" font-size="4.6">0</text>
<text class="t" x="429.5" y="164.7" font-size="5.6" text-anchor="end">10</text><text class="t" x="429.9" y="162.3" font-size="4.6">1</text>
<text class="t" x="458" y="164.7" font-size="5.6" text-anchor="end">10</text><text class="t" x="458.4" y="162.3" font-size="4.6">2</text>
<text class="t" x="486.4" y="164.7" font-size="5.6" text-anchor="end">10</text><text class="t" x="486.8" y="162.3" font-size="4.6">3</text>
<text class="t" x="514.9" y="164.7" font-size="5.6" text-anchor="end">10</text><text class="t" x="515.3" y="162.3" font-size="4.6">4</text>
<g transform="translate(394.8 156.7) rotate(-90)"><text class="t" x="0" y="0" font-size="5.6" text-anchor="middle">0</text></g>
<g transform="translate(394.8 133.4) rotate(-90)"><text class="t" x="0" y="0" font-size="5.6" text-anchor="middle">20</text></g>
<g transform="translate(394.8 110.2) rotate(-90)"><text class="t" x="0" y="0" font-size="5.6" text-anchor="middle">40</text></g>
<g transform="translate(394.8 86.9) rotate(-90)"><text class="t" x="0" y="0" font-size="5.6" text-anchor="middle">60</text></g>
<g transform="translate(394.8 63.6) rotate(-90)"><text class="t" x="0" y="0" font-size="5.6" text-anchor="middle">80</text></g>
<g transform="translate(394.8 40.4) rotate(-90)"><text class="t" x="0" y="0" font-size="5.6" text-anchor="middle">100</text></g>
<path d="M399.6 153.3 L400.3 151.1 L401 144.5 L401.7 142.4 L402.4 135.1 L403.1 132.7 L403.8 125.2 L404.5 122.3 L405.2 112.3 L405.9 108.3 L406.6 101 L407.3 93.7 L408 84 L408.7 79.9 L409.4 76.4 L410.1 69.4 L410.8 76 L411.5 84.7 L412.2 89 L412.9 93.1 L413.6 98.4 L414.3 108.2 L415 108.9 L415.7 118.2 L416.4 123.4 L417.1 124.3 L417.8 128.6 L418.5 132 L419.2 136.1 L419.9 138.3 L420.6 142.8 L421.3 144.9 L422 144.7 L422.7 147.4 L423.4 146.1 L424.1 146.8 L424.8 148.6 L425.5 149.2 L426.2 149.6 L426.9 150.3 L427.6 150.2 L428.3 149.2 L429 150.6 L429.7 151.2 L430.4 149.8 L431.1 150.8 L431.8 150.3 L432.5 150.5 L433.2 151.3 L433.9 151.9 L434.6 152.6 L435.3 151.2 L436 152 L436.7 153.1 L437.4 152.8 L438.1 152.6 L438.8 152.3 L439.5 153.1 L440.2 152.7 L440.9 153.4 L441.6 153.6 L442.3 153.4 L443 154.2 L443.7 153.8 L444.4 154.1 L445.1 154.7 L445.8 154.1 L446.5 154.3 L447.2 154.9 L447.9 154.9 L448.6 155.5 L449.3 155 L450 155.3 L450.7 155.2 L451.4 155.6" stroke="#111" stroke-width="1.25" stroke-dasharray="1.1 1.1" fill="none" stroke-linejoin="round"/>
<path d="M399.6 155.1 L400.3 155 L401 154.8 L401.7 153.3 L402.4 154 L403.1 153.5 L403.8 153.6 L404.5 152.6 L405.2 152.6 L405.9 152.9 L406.6 152.3 L407.3 152.6 L408 151.5 L408.7 151.5 L409.4 152.7 L410.1 151.9 L410.8 151.9 L411.5 152.3 L412.2 151.3 L412.9 150.4 L413.6 152 L414.3 151.3 L415 151.2 L415.7 150.9 L416.4 151.5 L417.1 149.6 L417.8 150.5 L418.5 149.1 L419.2 149.4 L419.9 149.1 L420.6 147.1 L421.3 144.9 L422 144.8 L422.7 144.3 L423.4 142.3 L424.1 140.1 L424.8 139.1 L425.5 135.1 L426.2 133.1 L426.9 131.6 L427.6 131.5 L428.3 124.8 L429 120.7 L429.7 117 L430.4 112.9 L431.1 110.9 L431.8 109.4 L432.5 108.9 L433.2 104.6 L433.9 105.8 L434.6 105.8 L435.3 105.9 L436 108.7 L436.7 106.6 L437.4 104.2 L438.1 104.3 L438.8 111.6 L439.5 114.5 L440.2 118.7 L440.9 117.9 L441.6 122.4 L442.3 126.8 L443 127 L443.7 131.4 L444.4 130.1 L445.1 137.4 L445.8 136.6 L446.5 141.3 L447.2 142.3 L447.9 147.2 L448.6 148.9 L449.3 151.6 L450 152.6 L450.7 153.7 L451.4 153.2 L452.1 154.3 L452.8 154.2 L453.5 153.8 L454.2 155.1 L454.9 154.3 L455.6 154.2 L456.3 154 L457 154.6 L457.7 154.2 L458.4 155.3 L459.1 155.4 L459.8 154.3 L460.5 154.2 L461.2 154.8 L461.9 154.3 L462.6 154.9 L463.3 155.3 L464 154.5 L464.7 154.8 L465.4 155.4 L466.1 154.8 L466.8 154.7 L467.5 155.5 L468.2 155.4 L468.9 155.5 L469.6 155.2 L470.3 154.9 L471 155.3 L471.7 155.4 L472.4 155.2 L473.1 154.7 L473.8 154.8 L474.5 154.9 L475.2 155.4 L475.9 155.1 L476.6 155.1 L477.3 155.5 L478 154.6 L478.7 155.3 L479.4 154.9 L480.1 155.2 L480.8 155.5 L481.5 154.8 L482.2 155.7 L482.9 154.6 L483.6 155.2 L484.3 155.2 L485 154.8 L485.7 155.2 L486.4 155.1 L487.1 155.1 L487.8 155.4 L488.5 154.6 L489.2 155 L489.9 155.5 L490.6 154.8 L491.3 155.6 L492 154.8 L492.7 155.4 L493.4 154.8 L494.1 155.1 L494.8 155.1 L495.5 154.7 L496.2 155.4 L496.9 155.2 L497.6 155.4 L498.3 155.2 L499 155.3 L499.7 155.2 L500.4 155 L501.1 155.7 L501.8 154.7 L502.5 155.6 L503.2 155.6 L503.9 155.2 L504.6 155.5 L505.3 155.4 L506 155.3 L506.7 155 L507.4 155 L508.1 155 L508.8 155 L509.5 155.7 L510.2 155 L510.9 155.1 L511.6 155.1 L512.3 155.6 L513 155.2" stroke="#000" stroke-width="2.0" fill="none" stroke-linejoin="round" stroke-linecap="round"/>
<text class="b" x="507.7" y="57.9" font-size="14" text-anchor="end" textLength="52.8" lengthAdjust="spacingAndGlyphs">M-CSFR</text>
</g>
<g transform="rotate(0.0 324.1 231.6)">
<path d="M266 173.1H382.2V290.2" fill="none" stroke="#222" stroke-width="1"/>
<path d="M266 172.7V290.2H382.6" fill="none" stroke="#000" stroke-width="1.2"/>
<path d="M266 290.2v2.8M274.7 290.2v1.6M279.9 290.2v1.6M283.5 290.2v1.6M286.3 290.2v1.6M288.6 290.2v1.6M290.6 290.2v1.6M292.2 290.2v1.6M293.7 290.2v1.6M295.1 290.2v2.8M303.8 290.2v1.6M308.9 290.2v1.6M312.5 290.2v1.6M315.4 290.2v1.6M317.7 290.2v1.6M319.6 290.2v1.6M321.3 290.2v1.6M322.8 290.2v1.6M324.1 290.2v2.8M332.8 290.2v1.6M338 290.2v1.6M341.6 290.2v1.6M344.4 290.2v1.6M346.7 290.2v1.6M348.7 290.2v1.6M350.3 290.2v1.6M351.8 290.2v1.6M353.1 290.2v2.8M361.9 290.2v1.6M367 290.2v1.6M370.6 290.2v1.6M373.5 290.2v1.6M375.8 290.2v1.6M377.7 290.2v1.6M379.4 290.2v1.6M380.9 290.2v1.6M382.2 290.2v2.8M266 290.2h-3M266 285.5h-1.8M266 280.8h-1.8M266 276.1h-1.8M266 271.5h-1.8M266 266.8h-3M266 262.1h-1.8M266 257.4h-1.8M266 252.7h-1.8M266 248h-1.8M266 243.4h-3M266 238.7h-1.8M266 234h-1.8M266 229.3h-1.8M266 224.6h-1.8M266 219.9h-3M266 215.3h-1.8M266 210.6h-1.8M266 205.9h-1.8M266 201.2h-1.8M266 196.5h-3M266 191.8h-1.8M266 187.2h-1.8M266 182.5h-1.8M266 177.8h-1.8M266 173.1h-3" stroke="#000" stroke-width="0.9" fill="none"/>
<text class="t" x="268.4" y="297.8" font-size="5.6" text-anchor="end">10</text><text class="t" x="268.8" y="295" font-size="4.6">0</text>
<text class="t" x="297.1" y="297.8" font-size="5.6" text-anchor="end">10</text><text class="t" x="297.5" y="295" font-size="4.6">1</text>
<text class="t" x="325.8" y="297.8" font-size="5.6" text-anchor="end">10</text><text class="t" x="326.2" y="295" font-size="4.6">2</text>
<text class="t" x="354.5" y="297.8" font-size="5.6" text-anchor="end">10</text><text class="t" x="354.9" y="295" font-size="4.6">3</text>
<text class="t" x="383.2" y="297.8" font-size="5.6" text-anchor="end">10</text><text class="t" x="383.6" y="295" font-size="4.6">4</text>
<g transform="translate(262.1 290.8) rotate(-90)"><text class="t" x="0" y="0" font-size="5.6" text-anchor="middle">0</text></g>
<g transform="translate(262.1 267.4) rotate(-90)"><text class="t" x="0" y="0" font-size="5.6" text-anchor="middle">20</text></g>
<g transform="translate(262.1 244) rotate(-90)"><text class="t" x="0" y="0" font-size="5.6" text-anchor="middle">40</text></g>
<g transform="translate(262.1 220.5) rotate(-90)"><text class="t" x="0" y="0" font-size="5.6" text-anchor="middle">60</text></g>
<g transform="translate(262.1 197.1) rotate(-90)"><text class="t" x="0" y="0" font-size="5.6" text-anchor="middle">80</text></g>
<g transform="translate(262.1 172.1) rotate(-90)"><text class="t" x="0" y="0" font-size="5.6" text-anchor="end">10</text></g>
<path d="M267.5 288.1 L268.2 287.4 L268.9 285.7 L269.6 285.2 L270.3 282.1 L271 279.6 L271.7 273.4 L272.4 269.5 L273.1 265.1 L273.8 257.1 L274.5 252.6 L275.2 245.7 L275.9 236.2 L276.6 228.1 L277.3 228.1 L278 220.2 L278.7 219.1 L279.4 227 L280.1 234.1 L280.8 240.9 L281.5 247.9 L282.2 249.5 L282.9 253.6 L283.6 257.5 L284.3 263.7 L285 261.3 L285.7 262.9 L286.4 263.8 L287.1 265.4 L287.8 266.8 L288.5 269.4 L289.2 270.1 L289.9 272.1 L290.6 275.6 L291.3 274.6 L292 278.3 L292.7 279.9 L293.4 281.3 L294.1 283 L294.8 284.7 L295.5 285.3 L296.2 285.5 L296.9 286.6 L297.6 287.3 L298.3 288.2 L299 289.3 L299.7 288.9 L300.4 288.7 L301.1 289.3 L301.8 289.7" stroke="#111" stroke-width="1.25" stroke-dasharray="1.1 1.1" fill="none" stroke-linejoin="round"/>
<path d="M267.8 288.9 L268.5 289 L269.2 289.2 L269.9 289.5 L270.6 288.7 L271.3 288.5 L272 288.6 L272.7 289.2 L273.4 288.3 L274.1 289 L274.8 288.8 L275.5 287.5 L276.2 287.1 L276.9 285.4 L277.6 283.7 L278.3 283.2 L279 276.9 L279.7 272 L280.4 270.8 L281.1 261.9 L281.8 253.6 L282.5 247.6 L283.2 241.7 L283.9 241 L284.6 233.1 L285.3 233.7 L286 239.4 L286.7 241.9 L287.4 247.5 L288.1 249.1 L288.8 248 L289.5 248.8 L290.2 254.5 L290.9 256.9 L291.6 252.2 L292.3 257.4 L293 258.9 L293.7 258.4 L294.4 257.1 L295.1 262.3 L295.8 264.2 L296.5 263.6 L297.2 268.2 L297.9 268.5 L298.6 270.2 L299.3 273.9 L300 276.1 L300.7 278.1 L301.4 280.3 L302.1 282.1 L302.8 283.6 L303.5 284.8 L304.2 285.6 L304.9 285.7 L305.6 284.9 L306.3 285.1 L307 286.6 L307.7 286.8 L308.4 287.5 L309.1 286.7 L309.8 287.2 L310.5 288.6 L311.2 288.3 L311.9 288.6 L312.6 287.8 L313.3 288.5 L314 289.4 L314.7 289.2 L315.4 289.7 L316.1 288.8 L316.8 289.1 L317.5 289.6 L318.2 289.1 L318.9 289.6 L319.6 289.3 L320.3 288.8 L321 288.8 L321.7 289.9 L322.4 288.9 L323.1 289 L323.8 289.2 L324.5 289.7 L325.2 289.8 L325.9 289.4 L326.6 289.5 L327.3 289.8 L328 289.3 L328.7 289.4 L329.4 289.7" stroke="#000" stroke-width="2.0" fill="none" stroke-linejoin="round" stroke-linecap="round"/>
<text class="b" x="376.2" y="191.2" font-size="14" text-anchor="end" textLength="71.5" lengthAdjust="spacingAndGlyphs">Lactoferrin</text>
</g>
<g transform="rotate(-0.35 457.1 231.3)">
<path d="M399.1 173H515V289.6" fill="none" stroke="#222" stroke-width="1"/>
<path d="M399.1 172.6V289.6H515.4" fill="none" stroke="#000" stroke-width="1.2"/>
<path d="M399.1 289.6v2.8M407.8 289.6v1.6M412.9 289.6v1.6M416.5 289.6v1.6M419.4 289.6v1.6M421.6 289.6v1.6M423.6 289.6v1.6M425.3 289.6v1.6M426.7 289.6v1.6M428.1 289.6v2.8M436.8 289.6v1.6M441.9 289.6v1.6M445.5 289.6v1.6M448.3 289.6v1.6M450.6 289.6v1.6M452.6 289.6v1.6M454.2 289.6v1.6M455.7 289.6v1.6M457.1 289.6v2.8M465.8 289.6v1.6M470.9 289.6v1.6M474.5 289.6v1.6M477.3 289.6v1.6M479.6 289.6v1.6M481.5 289.6v1.6M483.2 289.6v1.6M484.7 289.6v1.6M486 289.6v2.8M494.7 289.6v1.6M499.8 289.6v1.6M503.5 289.6v1.6M506.3 289.6v1.6M508.6 289.6v1.6M510.5 289.6v1.6M512.2 289.6v1.6M513.7 289.6v1.6M515 289.6v2.8M399.1 289.6h-3M399.1 284.9h-1.8M399.1 280.2h-1.8M399.1 275.6h-1.8M399.1 270.9h-1.8M399.1 266.2h-3M399.1 261.6h-1.8M399.1 256.9h-1.8M399.1 252.3h-1.8M399.1 247.6h-1.8M399.1 242.9h-3M399.1 238.3h-1.8M399.1 233.6h-1.8M399.1 228.9h-1.8M399.1 224.3h-1.8M399.1 219.6h-3M399.1 215h-1.8M399.1 210.3h-1.8M399.1 205.6h-1.8M399.1 201h-1.8M399.1 196.3h-3M399.1 191.6h-1.8M399.1 187h-1.8M399.1 182.3h-1.8M399.1 177.7h-1.8M399.1 173h-3" stroke="#000" stroke-width="0.9" fill="none"/>
<text class="t" x="400.6" y="297.4" font-size="5.6" text-anchor="end">10</text><text class="t" x="401" y="294.6" font-size="4.6">0</text>
<text class="t" x="429.4" y="297.4" font-size="5.6" text-anchor="end">10</text><text class="t" x="429.8" y="294.6" font-size="4.6">1</text>
<text class="t" x="458.2" y="297.4" font-size="5.6" text-anchor="end">10</text><text class="t" x="458.6" y="294.6" font-size="4.6">2</text>
<text class="t" x="487" y="297.4" font-size="5.6" text-anchor="end">10</text><text class="t" x="487.4" y="294.6" font-size="4.6">3</text>
<text class="t" x="515.8" y="297.4" font-size="5.6" text-anchor="end">10</text><text class="t" x="516.2" y="294.6" font-size="4.6">4</text>
<g transform="translate(395.2 290.2) rotate(-90)"><text class="t" x="0" y="0" font-size="5.6" text-anchor="middle">0</text></g>
<g transform="translate(395.2 266.8) rotate(-90)"><text class="t" x="0" y="0" font-size="5.6" text-anchor="middle">20</text></g>
<g transform="translate(395.2 243.5) rotate(-90)"><text class="t" x="0" y="0" font-size="5.6" text-anchor="middle">40</text></g>
<g transform="translate(395.2 220.2) rotate(-90)"><text class="t" x="0" y="0" font-size="5.6" text-anchor="middle">60</text></g>
<g transform="translate(395.2 196.9) rotate(-90)"><text class="t" x="0" y="0" font-size="5.6" text-anchor="middle">80</text></g>
<g transform="translate(395.2 172) rotate(-90)"><text class="t" x="0" y="0" font-size="5.6" text-anchor="end">10</text></g>
<path d="M406.4 288.1 L407.1 286.5 L407.8 285.3 L408.5 283.7 L409.2 283 L409.9 280 L410.6 276.5 L411.3 268.4 L412 263.8 L412.7 255.4 L413.4 249.3 L414.1 244.3 L414.8 235.5 L415.5 230.9 L416.2 228.8 L416.9 223.7 L417.6 217.6 L418.3 217.5 L419 217.6 L419.7 211.7 L420.4 217.4 L421.1 216.9 L421.8 216.9 L422.5 220.5 L423.2 232.8 L423.9 236.5 L424.6 242.7 L425.3 249.2 L426 258.3 L426.7 261.8 L427.4 266.8 L428.1 270.1 L428.8 272.7 L429.5 276.8 L430.2 276.9 L430.9 279.1 L431.6 281.4 L432.3 282.3 L433 283.8 L433.7 283.7 L434.4 284.4 L435.1 283.5 L435.8 284.3 L436.5 284.9 L437.2 285 L437.9 285.6 L438.6 285.7 L439.3 286.3 L440 287 L440.7 286.9 L441.4 287.1 L442.1 287.1 L442.8 287.4 L443.5 288.5 L444.2 288.3 L444.9 288.5 L445.6 288.2 L446.3 288.9 L447 288.5 L447.7 288.8" stroke="#111" stroke-width="1.25" stroke-dasharray="1.1 1.1" fill="none" stroke-linejoin="round"/>
<path d="M399.6 288.4 L400.3 288.1 L401 287.9 L401.7 288.8 L402.4 288.2 L403.1 288.3 L403.8 287.9 L404.5 287.5 L405.2 288 L405.9 287.6 L406.6 287.8 L407.3 287.5 L408 287.7 L408.7 286.8 L409.4 286.1 L410.1 285.9 L410.8 286.9 L411.5 285.5 L412.2 286.4 L412.9 286.2 L413.6 284.8 L414.3 286.2 L415 284.3 L415.7 286.1 L416.4 285.8 L417.1 284.1 L417.8 285.1 L418.5 284.9 L419.2 283.1 L419.9 284.3 L420.6 282.6 L421.3 284.5 L422 283.7 L422.7 284.1 L423.4 280.8 L424.1 280.7 L424.8 280.7 L425.5 279.8 L426.2 277.4 L426.9 279.2 L427.6 278.4 L428.3 275.7 L429 274.6 L429.7 276.1 L430.4 274.5 L431.1 275.1 L431.8 273.9 L432.5 272.9 L433.2 270.8 L433.9 270.8 L434.6 271.7 L435.3 272.4 L436 270.8 L436.7 272.2 L437.4 271.5 L438.1 273.2 L438.8 272.3 L439.5 271 L440.2 269.8 L440.9 268.4 L441.6 266.5 L442.3 268.9 L443 267.4 L443.7 264.9 L444.4 259.5 L445.1 260.5 L445.8 255.1 L446.5 257.2 L447.2 253.3 L447.9 251.6 L448.6 250.6 L449.3 251.3 L450 256.3 L450.7 258 L451.4 253.1 L452.1 253.8 L452.8 255.5 L453.5 256.1 L454.2 256.4 L454.9 259.4 L455.6 264.3 L456.3 262.1 L457 262.8 L457.7 266.4 L458.4 265.3 L459.1 269.5 L459.8 267.8 L460.5 271.9 L461.2 270.8 L461.9 274.4 L462.6 275.2 L463.3 276.5 L464 275.8 L464.7 276.9 L465.4 277.6 L466.1 279.2 L466.8 281.8 L467.5 281.1 L468.2 282.6 L468.9 284.2 L469.6 283.6 L470.3 284.4 L471 284.5 L471.7 285.9 L472.4 285 L473.1 287.2 L473.8 286.7 L474.5 287.3 L475.2 287.2 L475.9 287.4 L476.6 288.3 L477.3 288.3 L478 288.4 L478.7 287.4 L479.4 288.4 L480.1 289 L480.8 288.7 L481.5 288.7 L482.2 289 L482.9 288.5 L483.6 289.1 L484.3 289.1 L485 288.4 L485.7 288.8 L486.4 288.9 L487.1 288.7 L487.8 289 L488.5 289.3 L489.2 289.3 L489.9 288.6 L490.6 288.5 L491.3 289.2 L492 289 L492.7 289.2 L493.4 289.3 L494.1 288.6 L494.8 289 L495.5 288.7 L496.2 289.2 L496.9 289.1 L497.6 288.6 L498.3 288.9 L499 289 L499.7 288.6 L500.4 288.6 L501.1 288.9 L501.8 288.5 L502.5 288.9 L503.2 289.4 L503.9 289.3 L504.6 288.5 L505.3 289.3 L506 289.2 L506.7 289.2 L507.4 288.5 L508.1 289.2 L508.8 288.7 L509.5 289.3 L510.2 288.8 L510.9 288.9 L511.6 288.7 L512.3 289.4 L513 288.7" stroke="#000" stroke-width="2.0" fill="none" stroke-linejoin="round" stroke-linecap="round"/>
<text class="b" x="506.3" y="190.3" font-size="14" text-anchor="end" textLength="58.6" lengthAdjust="spacingAndGlyphs">Mannose</text>
<text class="b" x="503.2" y="201.6" font-size="14" text-anchor="end" textLength="53.3" lengthAdjust="spacingAndGlyphs">receptor</text>
</g>
<g transform="rotate(-0.5 324.9 368)">
<path d="M267.1 310.1H382.7V425.9" fill="none" stroke="#222" stroke-width="1"/>
<path d="M267.1 309.8V425.9H383.1" fill="none" stroke="#000" stroke-width="1.2"/>
<path d="M267.1 425.9v2.8M275.8 425.9v1.6M280.9 425.9v1.6M284.5 425.9v1.6M287.3 425.9v1.6M289.6 425.9v1.6M291.6 425.9v1.6M293.2 425.9v1.6M294.7 425.9v1.6M296 425.9v2.8M304.7 425.9v1.6M309.8 425.9v1.6M313.4 425.9v1.6M316.2 425.9v1.6M318.5 425.9v1.6M320.5 425.9v1.6M322.1 425.9v1.6M323.6 425.9v1.6M324.9 425.9v2.8M333.6 425.9v1.6M338.7 425.9v1.6M342.3 425.9v1.6M345.1 425.9v1.6M347.4 425.9v1.6M349.3 425.9v1.6M351 425.9v1.6M352.5 425.9v1.6M353.8 425.9v2.8M362.5 425.9v1.6M367.6 425.9v1.6M371.2 425.9v1.6M374 425.9v1.6M376.3 425.9v1.6M378.2 425.9v1.6M379.9 425.9v1.6M381.4 425.9v1.6M382.7 425.9v2.8M267.1 425.9h-3M267.1 421.3h-1.8M267.1 416.7h-1.8M267.1 412.1h-1.8M267.1 407.4h-1.8M267.1 402.8h-3M267.1 398.2h-1.8M267.1 393.5h-1.8M267.1 388.9h-1.8M267.1 384.3h-1.8M267.1 379.6h-3M267.1 375h-1.8M267.1 370.4h-1.8M267.1 365.7h-1.8M267.1 361.1h-1.8M267.1 356.5h-3M267.1 351.8h-1.8M267.1 347.2h-1.8M267.1 342.6h-1.8M267.1 337.9h-1.8M267.1 333.3h-3M267.1 328.7h-1.8M267.1 324h-1.8M267.1 319.4h-1.8M267.1 314.8h-1.8M267.1 310.1h-3" stroke="#000" stroke-width="0.9" fill="none"/>
<text class="t" x="269.5" y="433.8" font-size="5.6" text-anchor="end">10</text><text class="t" x="269.9" y="431.6" font-size="4.6">0</text>
<text class="t" x="298.1" y="433.8" font-size="5.6" text-anchor="end">10</text><text class="t" x="298.5" y="431.6" font-size="4.6">1</text>
<text class="t" x="326.6" y="433.8" font-size="5.6" text-anchor="end">10</text><text class="t" x="327" y="431.6" font-size="4.6">2</text>
<text class="t" x="355.2" y="433.8" font-size="5.6" text-anchor="end">10</text><text class="t" x="355.6" y="431.6" font-size="4.6">3</text>
<text class="t" x="383.7" y="433.8" font-size="5.6" text-anchor="end">10</text><text class="t" x="384.1" y="431.6" font-size="4.6">4</text>
<g transform="translate(263.2 426.6) rotate(-90)"><text class="t" x="0" y="0" font-size="5.6" text-anchor="middle">0</text></g>
<g transform="translate(263.2 403.4) rotate(-90)"><text class="t" x="0" y="0" font-size="5.6" text-anchor="middle">20</text></g>
<g transform="translate(263.2 380.2) rotate(-90)"><text class="t" x="0" y="0" font-size="5.6" text-anchor="middle">40</text></g>
<g transform="translate(263.2 357.1) rotate(-90)"><text class="t" x="0" y="0" font-size="5.6" text-anchor="middle">60</text></g>
<g transform="translate(263.2 333.9) rotate(-90)"><text class="t" x="0" y="0" font-size="5.6" text-anchor="middle">80</text></g>
<g transform="translate(263.2 310.8) rotate(-90)"><text class="t" x="0" y="0" font-size="5.6" text-anchor="middle">100</text></g>
<path d="M268 424.2 L268.9 418.4 L269.8 416.5 L270.7 412.7 L271.6 413.9 L272.5 406.4 L273.4 404.2 L274.3 402.3 L275.2 396.9 L276.1 399.2 L277 395.4 L277.9 390 L278.8 377.6 L279.7 386.6 L280.6 376.6 L281.5 373 L282.4 368.7 L283.3 367.7 L284.2 376.5 L285.1 370.6 L286 372.2 L286.9 386.9 L287.8 379.6 L288.7 382.7 L289.6 387.8 L290.5 396.8 L291.4 394.8 L292.3 395.3 L293.2 402 L294.1 405.5 L295 407.7 L295.9 417.7 L296.8 419.6 L297.7 419.3 L298.6 421.2" stroke="#111" stroke-width="1.25" stroke-dasharray="1.1 1.1" fill="none" stroke-linejoin="round"/>
<path d="M267.4 424.5 L268.1 425 L268.8 424.3 L269.5 424.7 L270.2 425.2 L270.9 424.5 L271.6 424.9 L272.3 424.9 L273 425.1 L273.7 423.8 L274.4 424 L275.1 425.4 L275.8 425 L276.5 424.3 L277.2 425.1 L277.9 424.2 L278.6 424.5 L279.3 424.6 L280 424.2 L280.7 424 L281.4 424.6 L282.1 424.8 L282.8 424.3 L283.5 424.8 L284.2 425.3 L284.9 423.8 L285.6 424.1 L286.3 423.8 L287 424.8 L287.7 424.3 L288.4 424.3 L289.1 424 L289.8 424.9 L290.5 424.8 L291.2 424.3 L291.9 424.9 L292.6 423.8 L293.3 424 L294 425 L294.7 423.4 L295.4 423.1 L296.1 422.6 L296.8 423.8 L297.5 423.9 L298.2 422 L298.9 422.8 L299.6 422.4 L300.3 421.9 L301 421.3 L301.7 421.2 L302.4 420.1 L303.1 422 L303.8 419.3 L304.5 420 L305.2 419.9 L305.9 419.6 L306.6 418.4 L307.3 418 L308 418.9 L308.7 415.3 L309.4 414.6 L310.1 414.3 L310.8 415.5 L311.5 413.4 L312.2 412.6 L312.9 410.4 L313.6 409.7 L314.3 411.4 L315 408.3 L315.7 408.5 L316.4 406.4 L317.1 405.8 L317.8 404.1 L318.5 407.3 L319.2 404.7 L319.9 403.1 L320.6 400.8 L321.3 403.8 L322 401.4 L322.7 398.1 L323.4 397.6 L324.1 401.5 L324.8 396 L325.5 395.4 L326.2 393.5 L326.9 400.2 L327.6 398.1 L328.3 401.5 L329 403 L329.7 401.6 L330.4 400.1 L331.1 398.8 L331.8 401 L332.5 397.6 L333.2 399.2 L333.9 400.7 L334.6 399.6 L335.3 397 L336 395.7 L336.7 391.9 L337.4 396.2 L338.1 397 L338.8 393.5 L339.5 392 L340.2 395.9 L340.9 396.4 L341.6 400.6 L342.3 401.6 L343 401.2 L343.7 403.3 L344.4 404.2 L345.1 406.3 L345.8 407.2 L346.5 408.4 L347.2 407.1 L347.9 411.1 L348.6 408.3 L349.3 410.2 L350 412.4 L350.7 410.8 L351.4 414.3 L352.1 413.9 L352.8 414.8 L353.5 414.6 L354.2 416.5 L354.9 417.9 L355.6 416.7 L356.3 420.1 L357 421.2 L357.7 420.3 L358.4 421.1 L359.1 422.4 L359.8 422.4 L360.5 422.9 L361.2 422.9 L361.9 423.4 L362.6 423.5 L363.3 423.3 L364 424.8 L364.7 424.8 L365.4 423.9 L366.1 425.3 L366.8 425.7" stroke="#000" stroke-width="2.0" fill="none" stroke-linejoin="round" stroke-linecap="round"/>
<text class="b" x="375.5" y="329.5" font-size="14" text-anchor="end" textLength="52" lengthAdjust="spacingAndGlyphs">HLA-DR</text>
</g>
<path d="M241.6 40 L248.2 56.6 L235 56.6 Z" fill="#000"/>
<path d="M241.4 56 L242.1 181 M242.6 281 L243.4 427.6" stroke="#000" stroke-width="2" fill="none"/>
<g transform="translate(248.2 276.3) rotate(-90)"><text class="b" x="0" y="0" font-size="17.3" textLength="90" lengthAdjust="spacingAndGlyphs">Cell number</text></g>
<path d="M267.5 447.6 H301.5 M483 447.6 H502" stroke="#000" stroke-width="1.6" fill="none"/>
<path d="M519.8 447.6 L501 441 L501 454.2 Z" fill="#000"/>
<text class="b" x="309.3" y="452.6" font-size="15.8" textLength="170.5" lengthAdjust="spacingAndGlyphs">Fluorescence intensity</text>
</svg></body></html>
